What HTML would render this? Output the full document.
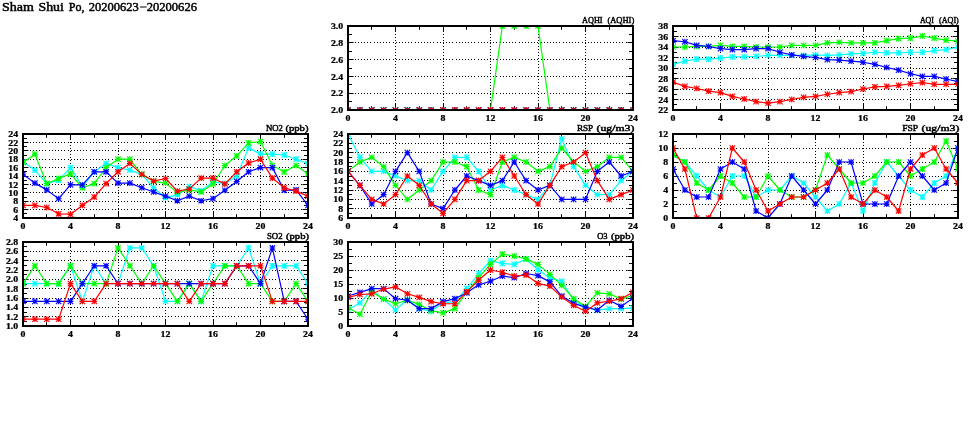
<!DOCTYPE html>
<html><head><meta charset="utf-8"><style>
html,body{margin:0;padding:0;background:#fff;width:975px;height:447px;overflow:hidden}
svg{display:block;will-change:transform}
.lab{font-family:"Liberation Serif", serif;font-size:8.2px;font-weight:bold;fill:#000;stroke:#000;stroke-width:0.25px}
.ttl{font-family:"Liberation Serif",serif;font-size:8.8px;font-weight:normal;fill:#000;stroke:#000;stroke-width:0.45px}
.main{font-family:"Liberation Serif",serif;font-size:11.8px;font-weight:normal;fill:#000;stroke:#000;stroke-width:0.45px}
</style></head><body>
<svg width="975" height="447" viewBox="0 0 975 447">
<rect width="975" height="447" fill="#fff"/>
<text x="2" y="11" textLength="31.9" lengthAdjust="spacingAndGlyphs" class="main">Sham</text><text x="38.5" y="11" textLength="25.4" lengthAdjust="spacingAndGlyphs" class="main">Shui</text><text x="68.8" y="11" textLength="15.7" lengthAdjust="spacingAndGlyphs" class="main">Po,</text><text x="88.8" y="11" textLength="50" lengthAdjust="spacingAndGlyphs" class="main">20200623</text><text x="146.7" y="11" textLength="50.3" lengthAdjust="spacingAndGlyphs" class="main">20200626</text><rect x="140.0" y="6.5" width="6.6" height="1.0" fill="#000"/>
<clipPath id="c0"><rect x="348" y="26" width="285" height="84"/></clipPath>
<path d="M354.7 93.5H633 M354.7 76.5H633 M354.7 59.5H633 M354.7 42.5H633" stroke="#000" stroke-width="1.0" stroke-dasharray="1 2.15" fill="none" shape-rendering="crispEdges"/>
<path d="M395.5 34V110 M443.5 34V110 M490.5 34V110 M538.5 34V110 M585.5 34V110" stroke="#000" stroke-width="1.0" stroke-dasharray="1 2" fill="none" shape-rendering="crispEdges"/>
<path d="M348 101.5h4M633 101.5h-4M348 93.5h5.5M633 93.5h-5.5M348 84.5h4M633 84.5h-4M348 76.5h5.5M633 76.5h-5.5M348 68.5h4M633 68.5h-4M348 59.5h5.5M633 59.5h-5.5M348 51.5h4M633 51.5h-4M348 42.5h5.5M633 42.5h-5.5M348 34.5h4M633 34.5h-4M371.5 26v3.8M371.5 110v-3.8M395.5 26v6M395.5 110v-6M419.5 26v3.8M419.5 110v-3.8M443.5 26v6M443.5 110v-6M466.5 26v3.8M466.5 110v-3.8M490.5 26v6M490.5 110v-6M514.5 26v3.8M514.5 110v-3.8M538.5 26v6M538.5 110v-6M561.5 26v3.8M561.5 110v-3.8M585.5 26v6M585.5 110v-6M609.5 26v3.8M609.5 110v-3.8" stroke="#000" stroke-width="1" fill="none"/>
<g clip-path="url(#c0)">
<polyline points="348,110 359.88,110 371.75,110 383.62,110 395.5,110 407.38,110 419.25,110 431.12,110 443,110 454.88,110 466.75,110 478.62,110 490.5,110 502.38,110 514.25,110 526.12,110 538,110 549.88,110 561.75,110 573.62,110 585.5,110 597.38,110 609.25,110 621.12,110 633,110" stroke="#00ffff" stroke-width="1.2" fill="none" stroke-linejoin="round"/>
<path d="M345.3 107.3l5.4 5.4m0 -5.4l-5.4 5.4M348 107.1v5.8M345.1 110h5.8M357.18 107.3l5.4 5.4m0 -5.4l-5.4 5.4M359.88 107.1v5.8M356.98 110h5.8M369.05 107.3l5.4 5.4m0 -5.4l-5.4 5.4M371.75 107.1v5.8M368.85 110h5.8M380.93 107.3l5.4 5.4m0 -5.4l-5.4 5.4M383.62 107.1v5.8M380.73 110h5.8M392.8 107.3l5.4 5.4m0 -5.4l-5.4 5.4M395.5 107.1v5.8M392.6 110h5.8M404.68 107.3l5.4 5.4m0 -5.4l-5.4 5.4M407.38 107.1v5.8M404.48 110h5.8M416.55 107.3l5.4 5.4m0 -5.4l-5.4 5.4M419.25 107.1v5.8M416.35 110h5.8M428.43 107.3l5.4 5.4m0 -5.4l-5.4 5.4M431.12 107.1v5.8M428.23 110h5.8M440.3 107.3l5.4 5.4m0 -5.4l-5.4 5.4M443 107.1v5.8M440.1 110h5.8M452.18 107.3l5.4 5.4m0 -5.4l-5.4 5.4M454.88 107.1v5.8M451.98 110h5.8M464.05 107.3l5.4 5.4m0 -5.4l-5.4 5.4M466.75 107.1v5.8M463.85 110h5.8M475.93 107.3l5.4 5.4m0 -5.4l-5.4 5.4M478.62 107.1v5.8M475.73 110h5.8M487.8 107.3l5.4 5.4m0 -5.4l-5.4 5.4M490.5 107.1v5.8M487.6 110h5.8M499.68 107.3l5.4 5.4m0 -5.4l-5.4 5.4M502.38 107.1v5.8M499.48 110h5.8M511.55 107.3l5.4 5.4m0 -5.4l-5.4 5.4M514.25 107.1v5.8M511.35 110h5.8M523.42 107.3l5.4 5.4m0 -5.4l-5.4 5.4M526.12 107.1v5.8M523.22 110h5.8M535.3 107.3l5.4 5.4m0 -5.4l-5.4 5.4M538 107.1v5.8M535.1 110h5.8M547.17 107.3l5.4 5.4m0 -5.4l-5.4 5.4M549.88 107.1v5.8M546.97 110h5.8M559.05 107.3l5.4 5.4m0 -5.4l-5.4 5.4M561.75 107.1v5.8M558.85 110h5.8M570.92 107.3l5.4 5.4m0 -5.4l-5.4 5.4M573.62 107.1v5.8M570.72 110h5.8M582.8 107.3l5.4 5.4m0 -5.4l-5.4 5.4M585.5 107.1v5.8M582.6 110h5.8M594.67 107.3l5.4 5.4m0 -5.4l-5.4 5.4M597.38 107.1v5.8M594.47 110h5.8M606.55 107.3l5.4 5.4m0 -5.4l-5.4 5.4M609.25 107.1v5.8M606.35 110h5.8M618.42 107.3l5.4 5.4m0 -5.4l-5.4 5.4M621.12 107.1v5.8M618.22 110h5.8M630.3 107.3l5.4 5.4m0 -5.4l-5.4 5.4M633 107.1v5.8M630.1 110h5.8" stroke="#00ffff" stroke-width="1.1" fill="none"/>
<polyline points="348,110 359.88,110 371.75,110 383.62,110 395.5,110 407.38,110 419.25,110 431.12,110 443,110 454.88,110 466.75,110 478.62,110 490.5,110 502.38,26 514.25,26 526.12,26 538,26 549.88,110 561.75,110 573.62,110 585.5,110 597.38,110 609.25,110 621.12,110 633,110" stroke="#00ff00" stroke-width="1.2" fill="none" stroke-linejoin="round"/>
<path d="M345.3 107.3l5.4 5.4m0 -5.4l-5.4 5.4M348 107.1v5.8M345.1 110h5.8M357.18 107.3l5.4 5.4m0 -5.4l-5.4 5.4M359.88 107.1v5.8M356.98 110h5.8M369.05 107.3l5.4 5.4m0 -5.4l-5.4 5.4M371.75 107.1v5.8M368.85 110h5.8M380.93 107.3l5.4 5.4m0 -5.4l-5.4 5.4M383.62 107.1v5.8M380.73 110h5.8M392.8 107.3l5.4 5.4m0 -5.4l-5.4 5.4M395.5 107.1v5.8M392.6 110h5.8M404.68 107.3l5.4 5.4m0 -5.4l-5.4 5.4M407.38 107.1v5.8M404.48 110h5.8M416.55 107.3l5.4 5.4m0 -5.4l-5.4 5.4M419.25 107.1v5.8M416.35 110h5.8M428.43 107.3l5.4 5.4m0 -5.4l-5.4 5.4M431.12 107.1v5.8M428.23 110h5.8M440.3 107.3l5.4 5.4m0 -5.4l-5.4 5.4M443 107.1v5.8M440.1 110h5.8M452.18 107.3l5.4 5.4m0 -5.4l-5.4 5.4M454.88 107.1v5.8M451.98 110h5.8M464.05 107.3l5.4 5.4m0 -5.4l-5.4 5.4M466.75 107.1v5.8M463.85 110h5.8M475.93 107.3l5.4 5.4m0 -5.4l-5.4 5.4M478.62 107.1v5.8M475.73 110h5.8M487.8 107.3l5.4 5.4m0 -5.4l-5.4 5.4M490.5 107.1v5.8M487.6 110h5.8M499.68 23.3l5.4 5.4m0 -5.4l-5.4 5.4M502.38 23.1v5.8M499.48 26h5.8M511.55 23.3l5.4 5.4m0 -5.4l-5.4 5.4M514.25 23.1v5.8M511.35 26h5.8M523.42 23.3l5.4 5.4m0 -5.4l-5.4 5.4M526.12 23.1v5.8M523.22 26h5.8M535.3 23.3l5.4 5.4m0 -5.4l-5.4 5.4M538 23.1v5.8M535.1 26h5.8M547.17 107.3l5.4 5.4m0 -5.4l-5.4 5.4M549.88 107.1v5.8M546.97 110h5.8M559.05 107.3l5.4 5.4m0 -5.4l-5.4 5.4M561.75 107.1v5.8M558.85 110h5.8M570.92 107.3l5.4 5.4m0 -5.4l-5.4 5.4M573.62 107.1v5.8M570.72 110h5.8M582.8 107.3l5.4 5.4m0 -5.4l-5.4 5.4M585.5 107.1v5.8M582.6 110h5.8M594.67 107.3l5.4 5.4m0 -5.4l-5.4 5.4M597.38 107.1v5.8M594.47 110h5.8M606.55 107.3l5.4 5.4m0 -5.4l-5.4 5.4M609.25 107.1v5.8M606.35 110h5.8M618.42 107.3l5.4 5.4m0 -5.4l-5.4 5.4M621.12 107.1v5.8M618.22 110h5.8M630.3 107.3l5.4 5.4m0 -5.4l-5.4 5.4M633 107.1v5.8M630.1 110h5.8" stroke="#00ff00" stroke-width="1.1" fill="none"/>
<polyline points="348,110 359.88,110 371.75,110 383.62,110 395.5,110 407.38,110 419.25,110 431.12,110 443,110 454.88,110 466.75,110 478.62,110 490.5,110 502.38,110 514.25,110 526.12,110 538,110 549.88,110 561.75,110 573.62,110 585.5,110 597.38,110 609.25,110 621.12,110 633,110" stroke="#0000ff" stroke-width="1.2" fill="none" stroke-linejoin="round"/>
<path d="M345.3 107.3l5.4 5.4m0 -5.4l-5.4 5.4M348 107.1v5.8M345.1 110h5.8M357.18 107.3l5.4 5.4m0 -5.4l-5.4 5.4M359.88 107.1v5.8M356.98 110h5.8M369.05 107.3l5.4 5.4m0 -5.4l-5.4 5.4M371.75 107.1v5.8M368.85 110h5.8M380.93 107.3l5.4 5.4m0 -5.4l-5.4 5.4M383.62 107.1v5.8M380.73 110h5.8M392.8 107.3l5.4 5.4m0 -5.4l-5.4 5.4M395.5 107.1v5.8M392.6 110h5.8M404.68 107.3l5.4 5.4m0 -5.4l-5.4 5.4M407.38 107.1v5.8M404.48 110h5.8M416.55 107.3l5.4 5.4m0 -5.4l-5.4 5.4M419.25 107.1v5.8M416.35 110h5.8M428.43 107.3l5.4 5.4m0 -5.4l-5.4 5.4M431.12 107.1v5.8M428.23 110h5.8M440.3 107.3l5.4 5.4m0 -5.4l-5.4 5.4M443 107.1v5.8M440.1 110h5.8M452.18 107.3l5.4 5.4m0 -5.4l-5.4 5.4M454.88 107.1v5.8M451.98 110h5.8M464.05 107.3l5.4 5.4m0 -5.4l-5.4 5.4M466.75 107.1v5.8M463.85 110h5.8M475.93 107.3l5.4 5.4m0 -5.4l-5.4 5.4M478.62 107.1v5.8M475.73 110h5.8M487.8 107.3l5.4 5.4m0 -5.4l-5.4 5.4M490.5 107.1v5.8M487.6 110h5.8M499.68 107.3l5.4 5.4m0 -5.4l-5.4 5.4M502.38 107.1v5.8M499.48 110h5.8M511.55 107.3l5.4 5.4m0 -5.4l-5.4 5.4M514.25 107.1v5.8M511.35 110h5.8M523.42 107.3l5.4 5.4m0 -5.4l-5.4 5.4M526.12 107.1v5.8M523.22 110h5.8M535.3 107.3l5.4 5.4m0 -5.4l-5.4 5.4M538 107.1v5.8M535.1 110h5.8M547.17 107.3l5.4 5.4m0 -5.4l-5.4 5.4M549.88 107.1v5.8M546.97 110h5.8M559.05 107.3l5.4 5.4m0 -5.4l-5.4 5.4M561.75 107.1v5.8M558.85 110h5.8M570.92 107.3l5.4 5.4m0 -5.4l-5.4 5.4M573.62 107.1v5.8M570.72 110h5.8M582.8 107.3l5.4 5.4m0 -5.4l-5.4 5.4M585.5 107.1v5.8M582.6 110h5.8M594.67 107.3l5.4 5.4m0 -5.4l-5.4 5.4M597.38 107.1v5.8M594.47 110h5.8M606.55 107.3l5.4 5.4m0 -5.4l-5.4 5.4M609.25 107.1v5.8M606.35 110h5.8M618.42 107.3l5.4 5.4m0 -5.4l-5.4 5.4M621.12 107.1v5.8M618.22 110h5.8M630.3 107.3l5.4 5.4m0 -5.4l-5.4 5.4M633 107.1v5.8M630.1 110h5.8" stroke="#0000ff" stroke-width="1.1" fill="none"/>
<polyline points="348,110 359.88,110 371.75,110 383.62,110 395.5,110 407.38,110 419.25,110 431.12,110 443,110 454.88,110 466.75,110 478.62,110 490.5,110 502.38,110 514.25,110 526.12,110 538,110 549.88,110 561.75,110 573.62,110 585.5,110 597.38,110 609.25,110 621.12,110 633,110" stroke="#ff0000" stroke-width="1.2" fill="none" stroke-linejoin="round"/>
<path d="M345.3 107.3l5.4 5.4m0 -5.4l-5.4 5.4M348 107.1v5.8M345.1 110h5.8M357.18 107.3l5.4 5.4m0 -5.4l-5.4 5.4M359.88 107.1v5.8M356.98 110h5.8M369.05 107.3l5.4 5.4m0 -5.4l-5.4 5.4M371.75 107.1v5.8M368.85 110h5.8M380.93 107.3l5.4 5.4m0 -5.4l-5.4 5.4M383.62 107.1v5.8M380.73 110h5.8M392.8 107.3l5.4 5.4m0 -5.4l-5.4 5.4M395.5 107.1v5.8M392.6 110h5.8M404.68 107.3l5.4 5.4m0 -5.4l-5.4 5.4M407.38 107.1v5.8M404.48 110h5.8M416.55 107.3l5.4 5.4m0 -5.4l-5.4 5.4M419.25 107.1v5.8M416.35 110h5.8M428.43 107.3l5.4 5.4m0 -5.4l-5.4 5.4M431.12 107.1v5.8M428.23 110h5.8M440.3 107.3l5.4 5.4m0 -5.4l-5.4 5.4M443 107.1v5.8M440.1 110h5.8M452.18 107.3l5.4 5.4m0 -5.4l-5.4 5.4M454.88 107.1v5.8M451.98 110h5.8M464.05 107.3l5.4 5.4m0 -5.4l-5.4 5.4M466.75 107.1v5.8M463.85 110h5.8M475.93 107.3l5.4 5.4m0 -5.4l-5.4 5.4M478.62 107.1v5.8M475.73 110h5.8M487.8 107.3l5.4 5.4m0 -5.4l-5.4 5.4M490.5 107.1v5.8M487.6 110h5.8M499.68 107.3l5.4 5.4m0 -5.4l-5.4 5.4M502.38 107.1v5.8M499.48 110h5.8M511.55 107.3l5.4 5.4m0 -5.4l-5.4 5.4M514.25 107.1v5.8M511.35 110h5.8M523.42 107.3l5.4 5.4m0 -5.4l-5.4 5.4M526.12 107.1v5.8M523.22 110h5.8M535.3 107.3l5.4 5.4m0 -5.4l-5.4 5.4M538 107.1v5.8M535.1 110h5.8M547.17 107.3l5.4 5.4m0 -5.4l-5.4 5.4M549.88 107.1v5.8M546.97 110h5.8M559.05 107.3l5.4 5.4m0 -5.4l-5.4 5.4M561.75 107.1v5.8M558.85 110h5.8M570.92 107.3l5.4 5.4m0 -5.4l-5.4 5.4M573.62 107.1v5.8M570.72 110h5.8M582.8 107.3l5.4 5.4m0 -5.4l-5.4 5.4M585.5 107.1v5.8M582.6 110h5.8M594.67 107.3l5.4 5.4m0 -5.4l-5.4 5.4M597.38 107.1v5.8M594.47 110h5.8M606.55 107.3l5.4 5.4m0 -5.4l-5.4 5.4M609.25 107.1v5.8M606.35 110h5.8M618.42 107.3l5.4 5.4m0 -5.4l-5.4 5.4M621.12 107.1v5.8M618.22 110h5.8M630.3 107.3l5.4 5.4m0 -5.4l-5.4 5.4M633 107.1v5.8M630.1 110h5.8" stroke="#ff0000" stroke-width="1.1" fill="none"/>
</g>
<rect x="348" y="26" width="285" height="84" fill="none" stroke="#000" stroke-width="2"/>
<text transform="translate(343.2,113.1) scale(1.2,1)" text-anchor="end" class="lab">2.0</text>
<text transform="translate(343.2,96.3) scale(1.2,1)" text-anchor="end" class="lab">2.2</text>
<text transform="translate(343.2,79.5) scale(1.2,1)" text-anchor="end" class="lab">2.4</text>
<text transform="translate(343.2,62.7) scale(1.2,1)" text-anchor="end" class="lab">2.6</text>
<text transform="translate(343.2,45.9) scale(1.2,1)" text-anchor="end" class="lab">2.8</text>
<text transform="translate(343.2,29.1) scale(1.2,1)" text-anchor="end" class="lab">3.0</text>
<text transform="translate(348,121) scale(1.2,1)" text-anchor="middle" class="lab">0</text>
<text transform="translate(395.5,121) scale(1.2,1)" text-anchor="middle" class="lab">4</text>
<text transform="translate(443,121) scale(1.2,1)" text-anchor="middle" class="lab">8</text>
<text transform="translate(490.5,121) scale(1.2,1)" text-anchor="middle" class="lab">12</text>
<text transform="translate(538,121) scale(1.2,1)" text-anchor="middle" class="lab">16</text>
<text transform="translate(585.5,121) scale(1.2,1)" text-anchor="middle" class="lab">20</text>
<text transform="translate(633,121) scale(1.2,1)" text-anchor="middle" class="lab">24</text>
<text x="582" y="22.7" textLength="20.6" lengthAdjust="spacingAndGlyphs" class="ttl">AQHI</text>
<text x="607.4" y="22.7" textLength="26.9" lengthAdjust="spacingAndGlyphs" class="ttl">(AQHI)</text>
<clipPath id="c1"><rect x="673" y="26" width="285" height="84"/></clipPath>
<path d="M679.7 99.5H958 M679.7 89.5H958 M679.7 78.5H958 M679.7 68.5H958 M679.7 57.5H958 M679.7 47.5H958 M679.7 36.5H958" stroke="#000" stroke-width="1.0" stroke-dasharray="1 2.15" fill="none" shape-rendering="crispEdges"/>
<path d="M720.5 34V110 M768.5 34V110 M815.5 34V110 M863.5 34V110 M910.5 34V110" stroke="#000" stroke-width="1.0" stroke-dasharray="1 2" fill="none" shape-rendering="crispEdges"/>
<path d="M673 104.5h4M958 104.5h-4M673 99.5h5.5M958 99.5h-5.5M673 94.5h4M958 94.5h-4M673 89.5h5.5M958 89.5h-5.5M673 83.5h4M958 83.5h-4M673 78.5h5.5M958 78.5h-5.5M673 73.5h4M958 73.5h-4M673 68.5h5.5M958 68.5h-5.5M673 62.5h4M958 62.5h-4M673 57.5h5.5M958 57.5h-5.5M673 52.5h4M958 52.5h-4M673 47.5h5.5M958 47.5h-5.5M673 41.5h4M958 41.5h-4M673 36.5h5.5M958 36.5h-5.5M673 31.5h4M958 31.5h-4M696.5 26v3.8M696.5 110v-3.8M720.5 26v6M720.5 110v-6M744.5 26v3.8M744.5 110v-3.8M768.5 26v6M768.5 110v-6M791.5 26v3.8M791.5 110v-3.8M815.5 26v6M815.5 110v-6M839.5 26v3.8M839.5 110v-3.8M863.5 26v6M863.5 110v-6M886.5 26v3.8M886.5 110v-3.8M910.5 26v6M910.5 110v-6M934.5 26v3.8M934.5 110v-3.8" stroke="#000" stroke-width="1" fill="none"/>
<g clip-path="url(#c1)">
<polyline points="673,64.33 684.88,61.17 696.75,59.08 708.62,59.08 720.5,58.03 732.38,56.97 744.25,56.97 756.12,56.45 768,55.4 779.88,55.4 791.75,55.4 803.62,55.4 815.5,54.88 827.38,55.4 839.25,54.88 851.12,53.82 863,53.3 874.88,52.25 886.75,52.78 898.62,52.78 910.5,52.25 922.38,52.25 934.25,50.68 946.12,49.62 958,47" stroke="#00ffff" stroke-width="1.2" fill="none" stroke-linejoin="round"/>
<path d="M670.3 61.62l5.4 5.4m0 -5.4l-5.4 5.4M673 61.42v5.8M670.1 64.33h5.8M682.17 58.47l5.4 5.4m0 -5.4l-5.4 5.4M684.88 58.27v5.8M681.97 61.17h5.8M694.05 56.38l5.4 5.4m0 -5.4l-5.4 5.4M696.75 56.17v5.8M693.85 59.08h5.8M705.92 56.38l5.4 5.4m0 -5.4l-5.4 5.4M708.62 56.17v5.8M705.72 59.08h5.8M717.8 55.33l5.4 5.4m0 -5.4l-5.4 5.4M720.5 55.12v5.8M717.6 58.03h5.8M729.67 54.27l5.4 5.4m0 -5.4l-5.4 5.4M732.38 54.07v5.8M729.47 56.97h5.8M741.55 54.27l5.4 5.4m0 -5.4l-5.4 5.4M744.25 54.07v5.8M741.35 56.97h5.8M753.42 53.75l5.4 5.4m0 -5.4l-5.4 5.4M756.12 53.55v5.8M753.22 56.45h5.8M765.3 52.7l5.4 5.4m0 -5.4l-5.4 5.4M768 52.5v5.8M765.1 55.4h5.8M777.17 52.7l5.4 5.4m0 -5.4l-5.4 5.4M779.88 52.5v5.8M776.97 55.4h5.8M789.05 52.7l5.4 5.4m0 -5.4l-5.4 5.4M791.75 52.5v5.8M788.85 55.4h5.8M800.92 52.7l5.4 5.4m0 -5.4l-5.4 5.4M803.62 52.5v5.8M800.72 55.4h5.8M812.8 52.17l5.4 5.4m0 -5.4l-5.4 5.4M815.5 51.97v5.8M812.6 54.88h5.8M824.67 52.7l5.4 5.4m0 -5.4l-5.4 5.4M827.38 52.5v5.8M824.47 55.4h5.8M836.55 52.17l5.4 5.4m0 -5.4l-5.4 5.4M839.25 51.97v5.8M836.35 54.88h5.8M848.42 51.12l5.4 5.4m0 -5.4l-5.4 5.4M851.12 50.92v5.8M848.22 53.82h5.8M860.3 50.6l5.4 5.4m0 -5.4l-5.4 5.4M863 50.4v5.8M860.1 53.3h5.8M872.17 49.55l5.4 5.4m0 -5.4l-5.4 5.4M874.88 49.35v5.8M871.97 52.25h5.8M884.05 50.08l5.4 5.4m0 -5.4l-5.4 5.4M886.75 49.88v5.8M883.85 52.78h5.8M895.92 50.08l5.4 5.4m0 -5.4l-5.4 5.4M898.62 49.88v5.8M895.72 52.78h5.8M907.8 49.55l5.4 5.4m0 -5.4l-5.4 5.4M910.5 49.35v5.8M907.6 52.25h5.8M919.67 49.55l5.4 5.4m0 -5.4l-5.4 5.4M922.38 49.35v5.8M919.47 52.25h5.8M931.55 47.98l5.4 5.4m0 -5.4l-5.4 5.4M934.25 47.78v5.8M931.35 50.68h5.8M943.42 46.92l5.4 5.4m0 -5.4l-5.4 5.4M946.12 46.72v5.8M943.22 49.62h5.8M955.3 44.3l5.4 5.4m0 -5.4l-5.4 5.4M958 44.1v5.8M955.1 47h5.8" stroke="#00ffff" stroke-width="1.1" fill="none"/>
<polyline points="673,47 684.88,47 696.75,46.47 708.62,46.47 720.5,45.43 732.38,46.47 744.25,46.47 756.12,47 768,47 779.88,47 791.75,45.43 803.62,45.43 815.5,45.43 827.38,42.8 839.25,42.28 851.12,42.8 863,42.8 874.88,42.8 886.75,40.7 898.62,38.6 910.5,38.07 922.38,35.97 934.25,38.07 946.12,40.18 958,41.22" stroke="#00ff00" stroke-width="1.2" fill="none" stroke-linejoin="round"/>
<path d="M670.3 44.3l5.4 5.4m0 -5.4l-5.4 5.4M673 44.1v5.8M670.1 47h5.8M682.17 44.3l5.4 5.4m0 -5.4l-5.4 5.4M684.88 44.1v5.8M681.97 47h5.8M694.05 43.77l5.4 5.4m0 -5.4l-5.4 5.4M696.75 43.57v5.8M693.85 46.47h5.8M705.92 43.77l5.4 5.4m0 -5.4l-5.4 5.4M708.62 43.57v5.8M705.72 46.47h5.8M717.8 42.73l5.4 5.4m0 -5.4l-5.4 5.4M720.5 42.53v5.8M717.6 45.43h5.8M729.67 43.77l5.4 5.4m0 -5.4l-5.4 5.4M732.38 43.57v5.8M729.47 46.47h5.8M741.55 43.77l5.4 5.4m0 -5.4l-5.4 5.4M744.25 43.57v5.8M741.35 46.47h5.8M753.42 44.3l5.4 5.4m0 -5.4l-5.4 5.4M756.12 44.1v5.8M753.22 47h5.8M765.3 44.3l5.4 5.4m0 -5.4l-5.4 5.4M768 44.1v5.8M765.1 47h5.8M777.17 44.3l5.4 5.4m0 -5.4l-5.4 5.4M779.88 44.1v5.8M776.97 47h5.8M789.05 42.73l5.4 5.4m0 -5.4l-5.4 5.4M791.75 42.53v5.8M788.85 45.43h5.8M800.92 42.73l5.4 5.4m0 -5.4l-5.4 5.4M803.62 42.53v5.8M800.72 45.43h5.8M812.8 42.73l5.4 5.4m0 -5.4l-5.4 5.4M815.5 42.53v5.8M812.6 45.43h5.8M824.67 40.1l5.4 5.4m0 -5.4l-5.4 5.4M827.38 39.9v5.8M824.47 42.8h5.8M836.55 39.58l5.4 5.4m0 -5.4l-5.4 5.4M839.25 39.38v5.8M836.35 42.28h5.8M848.42 40.1l5.4 5.4m0 -5.4l-5.4 5.4M851.12 39.9v5.8M848.22 42.8h5.8M860.3 40.1l5.4 5.4m0 -5.4l-5.4 5.4M863 39.9v5.8M860.1 42.8h5.8M872.17 40.1l5.4 5.4m0 -5.4l-5.4 5.4M874.88 39.9v5.8M871.97 42.8h5.8M884.05 38l5.4 5.4m0 -5.4l-5.4 5.4M886.75 37.8v5.8M883.85 40.7h5.8M895.92 35.9l5.4 5.4m0 -5.4l-5.4 5.4M898.62 35.7v5.8M895.72 38.6h5.8M907.8 35.37l5.4 5.4m0 -5.4l-5.4 5.4M910.5 35.17v5.8M907.6 38.07h5.8M919.67 33.27l5.4 5.4m0 -5.4l-5.4 5.4M922.38 33.07v5.8M919.47 35.97h5.8M931.55 35.37l5.4 5.4m0 -5.4l-5.4 5.4M934.25 35.17v5.8M931.35 38.07h5.8M943.42 37.48l5.4 5.4m0 -5.4l-5.4 5.4M946.12 37.28v5.8M943.22 40.18h5.8M955.3 38.52l5.4 5.4m0 -5.4l-5.4 5.4M958 38.32v5.8M955.1 41.22h5.8" stroke="#00ff00" stroke-width="1.1" fill="none"/>
<polyline points="673,40.7 684.88,41.75 696.75,45.43 708.62,46.47 720.5,48.57 732.38,49.62 744.25,49.62 756.12,48.57 768,48.57 779.88,52.25 791.75,54.88 803.62,56.45 815.5,57.5 827.38,59.6 839.25,60.12 851.12,61.17 863,62.22 874.88,64.33 886.75,67.47 898.62,70.1 910.5,73.78 922.38,76.4 934.25,76.4 946.12,79.03 958,81.65" stroke="#0000ff" stroke-width="1.2" fill="none" stroke-linejoin="round"/>
<path d="M670.3 38l5.4 5.4m0 -5.4l-5.4 5.4M673 37.8v5.8M670.1 40.7h5.8M682.17 39.05l5.4 5.4m0 -5.4l-5.4 5.4M684.88 38.85v5.8M681.97 41.75h5.8M694.05 42.73l5.4 5.4m0 -5.4l-5.4 5.4M696.75 42.53v5.8M693.85 45.43h5.8M705.92 43.77l5.4 5.4m0 -5.4l-5.4 5.4M708.62 43.57v5.8M705.72 46.47h5.8M717.8 45.87l5.4 5.4m0 -5.4l-5.4 5.4M720.5 45.67v5.8M717.6 48.57h5.8M729.67 46.92l5.4 5.4m0 -5.4l-5.4 5.4M732.38 46.72v5.8M729.47 49.62h5.8M741.55 46.92l5.4 5.4m0 -5.4l-5.4 5.4M744.25 46.72v5.8M741.35 49.62h5.8M753.42 45.87l5.4 5.4m0 -5.4l-5.4 5.4M756.12 45.67v5.8M753.22 48.57h5.8M765.3 45.87l5.4 5.4m0 -5.4l-5.4 5.4M768 45.67v5.8M765.1 48.57h5.8M777.17 49.55l5.4 5.4m0 -5.4l-5.4 5.4M779.88 49.35v5.8M776.97 52.25h5.8M789.05 52.17l5.4 5.4m0 -5.4l-5.4 5.4M791.75 51.97v5.8M788.85 54.88h5.8M800.92 53.75l5.4 5.4m0 -5.4l-5.4 5.4M803.62 53.55v5.8M800.72 56.45h5.8M812.8 54.8l5.4 5.4m0 -5.4l-5.4 5.4M815.5 54.6v5.8M812.6 57.5h5.8M824.67 56.9l5.4 5.4m0 -5.4l-5.4 5.4M827.38 56.7v5.8M824.47 59.6h5.8M836.55 57.42l5.4 5.4m0 -5.4l-5.4 5.4M839.25 57.22v5.8M836.35 60.12h5.8M848.42 58.47l5.4 5.4m0 -5.4l-5.4 5.4M851.12 58.27v5.8M848.22 61.17h5.8M860.3 59.52l5.4 5.4m0 -5.4l-5.4 5.4M863 59.32v5.8M860.1 62.22h5.8M872.17 61.62l5.4 5.4m0 -5.4l-5.4 5.4M874.88 61.42v5.8M871.97 64.33h5.8M884.05 64.77l5.4 5.4m0 -5.4l-5.4 5.4M886.75 64.57v5.8M883.85 67.47h5.8M895.92 67.4l5.4 5.4m0 -5.4l-5.4 5.4M898.62 67.2v5.8M895.72 70.1h5.8M907.8 71.08l5.4 5.4m0 -5.4l-5.4 5.4M910.5 70.88v5.8M907.6 73.78h5.8M919.67 73.7l5.4 5.4m0 -5.4l-5.4 5.4M922.38 73.5v5.8M919.47 76.4h5.8M931.55 73.7l5.4 5.4m0 -5.4l-5.4 5.4M934.25 73.5v5.8M931.35 76.4h5.8M943.42 76.33l5.4 5.4m0 -5.4l-5.4 5.4M946.12 76.12v5.8M943.22 79.03h5.8M955.3 78.95l5.4 5.4m0 -5.4l-5.4 5.4M958 78.75v5.8M955.1 81.65h5.8" stroke="#0000ff" stroke-width="1.1" fill="none"/>
<polyline points="673,82.17 684.88,86.38 696.75,88.47 708.62,91.1 720.5,92.67 732.38,96.35 744.25,98.97 756.12,101.6 768,103.17 779.88,101.6 791.75,99.5 803.62,97.4 815.5,96.35 827.38,94.25 839.25,92.67 851.12,91.62 863,89 874.88,86.9 886.75,86.38 898.62,85.33 910.5,83.75 922.38,82.7 934.25,84.28 946.12,84.28 958,84.28" stroke="#ff0000" stroke-width="1.2" fill="none" stroke-linejoin="round"/>
<path d="M670.3 79.47l5.4 5.4m0 -5.4l-5.4 5.4M673 79.27v5.8M670.1 82.17h5.8M682.17 83.67l5.4 5.4m0 -5.4l-5.4 5.4M684.88 83.47v5.8M681.97 86.38h5.8M694.05 85.77l5.4 5.4m0 -5.4l-5.4 5.4M696.75 85.57v5.8M693.85 88.47h5.8M705.92 88.4l5.4 5.4m0 -5.4l-5.4 5.4M708.62 88.2v5.8M705.72 91.1h5.8M717.8 89.97l5.4 5.4m0 -5.4l-5.4 5.4M720.5 89.77v5.8M717.6 92.67h5.8M729.67 93.65l5.4 5.4m0 -5.4l-5.4 5.4M732.38 93.45v5.8M729.47 96.35h5.8M741.55 96.27l5.4 5.4m0 -5.4l-5.4 5.4M744.25 96.07v5.8M741.35 98.97h5.8M753.42 98.9l5.4 5.4m0 -5.4l-5.4 5.4M756.12 98.7v5.8M753.22 101.6h5.8M765.3 100.47l5.4 5.4m0 -5.4l-5.4 5.4M768 100.27v5.8M765.1 103.17h5.8M777.17 98.9l5.4 5.4m0 -5.4l-5.4 5.4M779.88 98.7v5.8M776.97 101.6h5.8M789.05 96.8l5.4 5.4m0 -5.4l-5.4 5.4M791.75 96.6v5.8M788.85 99.5h5.8M800.92 94.7l5.4 5.4m0 -5.4l-5.4 5.4M803.62 94.5v5.8M800.72 97.4h5.8M812.8 93.65l5.4 5.4m0 -5.4l-5.4 5.4M815.5 93.45v5.8M812.6 96.35h5.8M824.67 91.55l5.4 5.4m0 -5.4l-5.4 5.4M827.38 91.35v5.8M824.47 94.25h5.8M836.55 89.97l5.4 5.4m0 -5.4l-5.4 5.4M839.25 89.77v5.8M836.35 92.67h5.8M848.42 88.92l5.4 5.4m0 -5.4l-5.4 5.4M851.12 88.72v5.8M848.22 91.62h5.8M860.3 86.3l5.4 5.4m0 -5.4l-5.4 5.4M863 86.1v5.8M860.1 89h5.8M872.17 84.2l5.4 5.4m0 -5.4l-5.4 5.4M874.88 84v5.8M871.97 86.9h5.8M884.05 83.67l5.4 5.4m0 -5.4l-5.4 5.4M886.75 83.47v5.8M883.85 86.38h5.8M895.92 82.62l5.4 5.4m0 -5.4l-5.4 5.4M898.62 82.42v5.8M895.72 85.33h5.8M907.8 81.05l5.4 5.4m0 -5.4l-5.4 5.4M910.5 80.85v5.8M907.6 83.75h5.8M919.67 80l5.4 5.4m0 -5.4l-5.4 5.4M922.38 79.8v5.8M919.47 82.7h5.8M931.55 81.58l5.4 5.4m0 -5.4l-5.4 5.4M934.25 81.38v5.8M931.35 84.28h5.8M943.42 81.58l5.4 5.4m0 -5.4l-5.4 5.4M946.12 81.38v5.8M943.22 84.28h5.8M955.3 81.58l5.4 5.4m0 -5.4l-5.4 5.4M958 81.38v5.8M955.1 84.28h5.8" stroke="#ff0000" stroke-width="1.1" fill="none"/>
</g>
<rect x="673" y="26" width="285" height="84" fill="none" stroke="#000" stroke-width="2"/>
<text transform="translate(668.2,113.1) scale(1.2,1)" text-anchor="end" class="lab">22</text>
<text transform="translate(668.2,102.6) scale(1.2,1)" text-anchor="end" class="lab">24</text>
<text transform="translate(668.2,92.1) scale(1.2,1)" text-anchor="end" class="lab">26</text>
<text transform="translate(668.2,81.6) scale(1.2,1)" text-anchor="end" class="lab">28</text>
<text transform="translate(668.2,71.1) scale(1.2,1)" text-anchor="end" class="lab">30</text>
<text transform="translate(668.2,60.6) scale(1.2,1)" text-anchor="end" class="lab">32</text>
<text transform="translate(668.2,50.1) scale(1.2,1)" text-anchor="end" class="lab">34</text>
<text transform="translate(668.2,39.6) scale(1.2,1)" text-anchor="end" class="lab">36</text>
<text transform="translate(668.2,29.1) scale(1.2,1)" text-anchor="end" class="lab">38</text>
<text transform="translate(673,121) scale(1.2,1)" text-anchor="middle" class="lab">0</text>
<text transform="translate(720.5,121) scale(1.2,1)" text-anchor="middle" class="lab">4</text>
<text transform="translate(768,121) scale(1.2,1)" text-anchor="middle" class="lab">8</text>
<text transform="translate(815.5,121) scale(1.2,1)" text-anchor="middle" class="lab">12</text>
<text transform="translate(863,121) scale(1.2,1)" text-anchor="middle" class="lab">16</text>
<text transform="translate(910.5,121) scale(1.2,1)" text-anchor="middle" class="lab">20</text>
<text transform="translate(958,121) scale(1.2,1)" text-anchor="middle" class="lab">24</text>
<text x="919.9" y="22.7" textLength="14.1" lengthAdjust="spacingAndGlyphs" class="ttl">AQI</text>
<text x="939" y="22.7" textLength="19.8" lengthAdjust="spacingAndGlyphs" class="ttl">(AQI)</text>
<clipPath id="c2"><rect x="23" y="134" width="285" height="84"/></clipPath>
<path d="M29.7 209.5H308 M29.7 201.5H308 M29.7 192.5H308 M29.7 184.5H308 M29.7 176.5H308 M29.7 167.5H308 M29.7 159.5H308 M29.7 150.5H308 M29.7 142.5H308" stroke="#000" stroke-width="1.0" stroke-dasharray="1 2.15" fill="none" shape-rendering="crispEdges"/>
<path d="M70.5 142V218 M118.5 142V218 M165.5 142V218 M213.5 142V218 M260.5 142V218" stroke="#000" stroke-width="1.0" stroke-dasharray="1 2" fill="none" shape-rendering="crispEdges"/>
<path d="M23 213.5h4M308 213.5h-4M23 209.5h5.5M308 209.5h-5.5M23 205.5h4M308 205.5h-4M23 201.5h5.5M308 201.5h-5.5M23 197.5h4M308 197.5h-4M23 192.5h5.5M308 192.5h-5.5M23 188.5h4M308 188.5h-4M23 184.5h5.5M308 184.5h-5.5M23 180.5h4M308 180.5h-4M23 176.5h5.5M308 176.5h-5.5M23 171.5h4M308 171.5h-4M23 167.5h5.5M308 167.5h-5.5M23 163.5h4M308 163.5h-4M23 159.5h5.5M308 159.5h-5.5M23 155.5h4M308 155.5h-4M23 150.5h5.5M308 150.5h-5.5M23 146.5h4M308 146.5h-4M23 142.5h5.5M308 142.5h-5.5M23 138.5h4M308 138.5h-4M46.5 134v3.8M46.5 218v-3.8M70.5 134v6M70.5 218v-6M94.5 134v3.8M94.5 218v-3.8M118.5 134v6M118.5 218v-6M141.5 134v3.8M141.5 218v-3.8M165.5 134v6M165.5 218v-6M189.5 134v3.8M189.5 218v-3.8M213.5 134v6M213.5 218v-6M236.5 134v3.8M236.5 218v-3.8M260.5 134v6M260.5 218v-6M284.5 134v3.8M284.5 218v-3.8" stroke="#000" stroke-width="1" fill="none"/>
<g clip-path="url(#c2)">
<polyline points="23,161.72 34.88,170.12 46.75,183.56 58.62,180.2 70.5,167.6 82.38,186.5 94.25,171.8 106.12,163.4 118,167.6 129.88,170.12 141.75,174.32 153.62,187.76 165.5,197.84 177.38,194.9 189.25,186.5 201.12,190.7 213,181.88 224.88,183.56 236.75,176 248.62,147.86 260.5,154.16 272.38,154.16 284.25,155 296.12,159.2 308,163.4" stroke="#00ffff" stroke-width="1.2" fill="none" stroke-linejoin="round"/>
<path d="M20.3 159.02l5.4 5.4m0 -5.4l-5.4 5.4M23 158.82v5.8M20.1 161.72h5.8M32.17 167.42l5.4 5.4m0 -5.4l-5.4 5.4M34.88 167.22v5.8M31.97 170.12h5.8M44.05 180.86l5.4 5.4m0 -5.4l-5.4 5.4M46.75 180.66v5.8M43.85 183.56h5.8M55.92 177.5l5.4 5.4m0 -5.4l-5.4 5.4M58.62 177.3v5.8M55.72 180.2h5.8M67.8 164.9l5.4 5.4m0 -5.4l-5.4 5.4M70.5 164.7v5.8M67.6 167.6h5.8M79.67 183.8l5.4 5.4m0 -5.4l-5.4 5.4M82.38 183.6v5.8M79.47 186.5h5.8M91.55 169.1l5.4 5.4m0 -5.4l-5.4 5.4M94.25 168.9v5.8M91.35 171.8h5.8M103.42 160.7l5.4 5.4m0 -5.4l-5.4 5.4M106.12 160.5v5.8M103.22 163.4h5.8M115.3 164.9l5.4 5.4m0 -5.4l-5.4 5.4M118 164.7v5.8M115.1 167.6h5.8M127.17 167.42l5.4 5.4m0 -5.4l-5.4 5.4M129.88 167.22v5.8M126.97 170.12h5.8M139.05 171.62l5.4 5.4m0 -5.4l-5.4 5.4M141.75 171.42v5.8M138.85 174.32h5.8M150.93 185.06l5.4 5.4m0 -5.4l-5.4 5.4M153.62 184.86v5.8M150.73 187.76h5.8M162.8 195.14l5.4 5.4m0 -5.4l-5.4 5.4M165.5 194.94v5.8M162.6 197.84h5.8M174.68 192.2l5.4 5.4m0 -5.4l-5.4 5.4M177.38 192v5.8M174.48 194.9h5.8M186.55 183.8l5.4 5.4m0 -5.4l-5.4 5.4M189.25 183.6v5.8M186.35 186.5h5.8M198.43 188l5.4 5.4m0 -5.4l-5.4 5.4M201.12 187.8v5.8M198.23 190.7h5.8M210.3 179.18l5.4 5.4m0 -5.4l-5.4 5.4M213 178.98v5.8M210.1 181.88h5.8M222.18 180.86l5.4 5.4m0 -5.4l-5.4 5.4M224.88 180.66v5.8M221.98 183.56h5.8M234.05 173.3l5.4 5.4m0 -5.4l-5.4 5.4M236.75 173.1v5.8M233.85 176h5.8M245.93 145.16l5.4 5.4m0 -5.4l-5.4 5.4M248.62 144.96v5.8M245.73 147.86h5.8M257.8 151.46l5.4 5.4m0 -5.4l-5.4 5.4M260.5 151.26v5.8M257.6 154.16h5.8M269.68 151.46l5.4 5.4m0 -5.4l-5.4 5.4M272.38 151.26v5.8M269.48 154.16h5.8M281.55 152.3l5.4 5.4m0 -5.4l-5.4 5.4M284.25 152.1v5.8M281.35 155h5.8M293.43 156.5l5.4 5.4m0 -5.4l-5.4 5.4M296.12 156.3v5.8M293.23 159.2h5.8M305.3 160.7l5.4 5.4m0 -5.4l-5.4 5.4M308 160.5v5.8M305.1 163.4h5.8" stroke="#00ffff" stroke-width="1.1" fill="none"/>
<polyline points="23,162.56 34.88,154.16 46.75,183.56 58.62,178.52 70.5,173.9 82.38,187.76 94.25,183.56 106.12,167.6 118,159.2 129.88,159.2 141.75,174.32 153.62,181.46 165.5,183.14 177.38,192.38 189.25,189.86 201.12,191.96 213,183.98 224.88,165.5 236.75,155.84 248.62,142.82 260.5,141.56 272.38,165.5 284.25,171.8 296.12,165.5 308,173.9" stroke="#00ff00" stroke-width="1.2" fill="none" stroke-linejoin="round"/>
<path d="M20.3 159.86l5.4 5.4m0 -5.4l-5.4 5.4M23 159.66v5.8M20.1 162.56h5.8M32.17 151.46l5.4 5.4m0 -5.4l-5.4 5.4M34.88 151.26v5.8M31.97 154.16h5.8M44.05 180.86l5.4 5.4m0 -5.4l-5.4 5.4M46.75 180.66v5.8M43.85 183.56h5.8M55.92 175.82l5.4 5.4m0 -5.4l-5.4 5.4M58.62 175.62v5.8M55.72 178.52h5.8M67.8 171.2l5.4 5.4m0 -5.4l-5.4 5.4M70.5 171v5.8M67.6 173.9h5.8M79.67 185.06l5.4 5.4m0 -5.4l-5.4 5.4M82.38 184.86v5.8M79.47 187.76h5.8M91.55 180.86l5.4 5.4m0 -5.4l-5.4 5.4M94.25 180.66v5.8M91.35 183.56h5.8M103.42 164.9l5.4 5.4m0 -5.4l-5.4 5.4M106.12 164.7v5.8M103.22 167.6h5.8M115.3 156.5l5.4 5.4m0 -5.4l-5.4 5.4M118 156.3v5.8M115.1 159.2h5.8M127.17 156.5l5.4 5.4m0 -5.4l-5.4 5.4M129.88 156.3v5.8M126.97 159.2h5.8M139.05 171.62l5.4 5.4m0 -5.4l-5.4 5.4M141.75 171.42v5.8M138.85 174.32h5.8M150.93 178.76l5.4 5.4m0 -5.4l-5.4 5.4M153.62 178.56v5.8M150.73 181.46h5.8M162.8 180.44l5.4 5.4m0 -5.4l-5.4 5.4M165.5 180.24v5.8M162.6 183.14h5.8M174.68 189.68l5.4 5.4m0 -5.4l-5.4 5.4M177.38 189.48v5.8M174.48 192.38h5.8M186.55 187.16l5.4 5.4m0 -5.4l-5.4 5.4M189.25 186.96v5.8M186.35 189.86h5.8M198.43 189.26l5.4 5.4m0 -5.4l-5.4 5.4M201.12 189.06v5.8M198.23 191.96h5.8M210.3 181.28l5.4 5.4m0 -5.4l-5.4 5.4M213 181.08v5.8M210.1 183.98h5.8M222.18 162.8l5.4 5.4m0 -5.4l-5.4 5.4M224.88 162.6v5.8M221.98 165.5h5.8M234.05 153.14l5.4 5.4m0 -5.4l-5.4 5.4M236.75 152.94v5.8M233.85 155.84h5.8M245.93 140.12l5.4 5.4m0 -5.4l-5.4 5.4M248.62 139.92v5.8M245.73 142.82h5.8M257.8 138.86l5.4 5.4m0 -5.4l-5.4 5.4M260.5 138.66v5.8M257.6 141.56h5.8M269.68 162.8l5.4 5.4m0 -5.4l-5.4 5.4M272.38 162.6v5.8M269.48 165.5h5.8M281.55 169.1l5.4 5.4m0 -5.4l-5.4 5.4M284.25 168.9v5.8M281.35 171.8h5.8M293.43 162.8l5.4 5.4m0 -5.4l-5.4 5.4M296.12 162.6v5.8M293.23 165.5h5.8M305.3 171.2l5.4 5.4m0 -5.4l-5.4 5.4M308 171v5.8M305.1 173.9h5.8" stroke="#00ff00" stroke-width="1.1" fill="none"/>
<polyline points="23,174.32 34.88,183.14 46.75,189.86 58.62,198.68 70.5,184.82 82.38,184.82 94.25,171.8 106.12,171.8 118,183.14 129.88,183.14 141.75,187.76 153.62,191.96 165.5,196.16 177.38,200.78 189.25,196.16 201.12,200.78 213,198.68 224.88,190.28 236.75,181.46 248.62,171.8 260.5,167.6 272.38,167.6 284.25,190.28 296.12,189.86 308,205.4" stroke="#0000ff" stroke-width="1.2" fill="none" stroke-linejoin="round"/>
<path d="M20.3 171.62l5.4 5.4m0 -5.4l-5.4 5.4M23 171.42v5.8M20.1 174.32h5.8M32.17 180.44l5.4 5.4m0 -5.4l-5.4 5.4M34.88 180.24v5.8M31.97 183.14h5.8M44.05 187.16l5.4 5.4m0 -5.4l-5.4 5.4M46.75 186.96v5.8M43.85 189.86h5.8M55.92 195.98l5.4 5.4m0 -5.4l-5.4 5.4M58.62 195.78v5.8M55.72 198.68h5.8M67.8 182.12l5.4 5.4m0 -5.4l-5.4 5.4M70.5 181.92v5.8M67.6 184.82h5.8M79.67 182.12l5.4 5.4m0 -5.4l-5.4 5.4M82.38 181.92v5.8M79.47 184.82h5.8M91.55 169.1l5.4 5.4m0 -5.4l-5.4 5.4M94.25 168.9v5.8M91.35 171.8h5.8M103.42 169.1l5.4 5.4m0 -5.4l-5.4 5.4M106.12 168.9v5.8M103.22 171.8h5.8M115.3 180.44l5.4 5.4m0 -5.4l-5.4 5.4M118 180.24v5.8M115.1 183.14h5.8M127.17 180.44l5.4 5.4m0 -5.4l-5.4 5.4M129.88 180.24v5.8M126.97 183.14h5.8M139.05 185.06l5.4 5.4m0 -5.4l-5.4 5.4M141.75 184.86v5.8M138.85 187.76h5.8M150.93 189.26l5.4 5.4m0 -5.4l-5.4 5.4M153.62 189.06v5.8M150.73 191.96h5.8M162.8 193.46l5.4 5.4m0 -5.4l-5.4 5.4M165.5 193.26v5.8M162.6 196.16h5.8M174.68 198.08l5.4 5.4m0 -5.4l-5.4 5.4M177.38 197.88v5.8M174.48 200.78h5.8M186.55 193.46l5.4 5.4m0 -5.4l-5.4 5.4M189.25 193.26v5.8M186.35 196.16h5.8M198.43 198.08l5.4 5.4m0 -5.4l-5.4 5.4M201.12 197.88v5.8M198.23 200.78h5.8M210.3 195.98l5.4 5.4m0 -5.4l-5.4 5.4M213 195.78v5.8M210.1 198.68h5.8M222.18 187.58l5.4 5.4m0 -5.4l-5.4 5.4M224.88 187.38v5.8M221.98 190.28h5.8M234.05 178.76l5.4 5.4m0 -5.4l-5.4 5.4M236.75 178.56v5.8M233.85 181.46h5.8M245.93 169.1l5.4 5.4m0 -5.4l-5.4 5.4M248.62 168.9v5.8M245.73 171.8h5.8M257.8 164.9l5.4 5.4m0 -5.4l-5.4 5.4M260.5 164.7v5.8M257.6 167.6h5.8M269.68 164.9l5.4 5.4m0 -5.4l-5.4 5.4M272.38 164.7v5.8M269.48 167.6h5.8M281.55 187.58l5.4 5.4m0 -5.4l-5.4 5.4M284.25 187.38v5.8M281.35 190.28h5.8M293.43 187.16l5.4 5.4m0 -5.4l-5.4 5.4M296.12 186.96v5.8M293.23 189.86h5.8M305.3 202.7l5.4 5.4m0 -5.4l-5.4 5.4M308 202.5v5.8M305.1 205.4h5.8" stroke="#0000ff" stroke-width="1.1" fill="none"/>
<polyline points="23,205.4 34.88,205.4 46.75,207.5 58.62,213.8 70.5,214.22 82.38,205.4 94.25,197 106.12,183.56 118,171.8 129.88,163.4 141.75,174.32 153.62,181.04 165.5,178.52 177.38,191.12 189.25,189.02 201.12,178.1 213,178.1 224.88,183.98 236.75,171.8 248.62,162.98 260.5,159.2 272.38,178.1 284.25,187.76 296.12,191.12 308,196.16" stroke="#ff0000" stroke-width="1.2" fill="none" stroke-linejoin="round"/>
<path d="M20.3 202.7l5.4 5.4m0 -5.4l-5.4 5.4M23 202.5v5.8M20.1 205.4h5.8M32.17 202.7l5.4 5.4m0 -5.4l-5.4 5.4M34.88 202.5v5.8M31.97 205.4h5.8M44.05 204.8l5.4 5.4m0 -5.4l-5.4 5.4M46.75 204.6v5.8M43.85 207.5h5.8M55.92 211.1l5.4 5.4m0 -5.4l-5.4 5.4M58.62 210.9v5.8M55.72 213.8h5.8M67.8 211.52l5.4 5.4m0 -5.4l-5.4 5.4M70.5 211.32v5.8M67.6 214.22h5.8M79.67 202.7l5.4 5.4m0 -5.4l-5.4 5.4M82.38 202.5v5.8M79.47 205.4h5.8M91.55 194.3l5.4 5.4m0 -5.4l-5.4 5.4M94.25 194.1v5.8M91.35 197h5.8M103.42 180.86l5.4 5.4m0 -5.4l-5.4 5.4M106.12 180.66v5.8M103.22 183.56h5.8M115.3 169.1l5.4 5.4m0 -5.4l-5.4 5.4M118 168.9v5.8M115.1 171.8h5.8M127.17 160.7l5.4 5.4m0 -5.4l-5.4 5.4M129.88 160.5v5.8M126.97 163.4h5.8M139.05 171.62l5.4 5.4m0 -5.4l-5.4 5.4M141.75 171.42v5.8M138.85 174.32h5.8M150.93 178.34l5.4 5.4m0 -5.4l-5.4 5.4M153.62 178.14v5.8M150.73 181.04h5.8M162.8 175.82l5.4 5.4m0 -5.4l-5.4 5.4M165.5 175.62v5.8M162.6 178.52h5.8M174.68 188.42l5.4 5.4m0 -5.4l-5.4 5.4M177.38 188.22v5.8M174.48 191.12h5.8M186.55 186.32l5.4 5.4m0 -5.4l-5.4 5.4M189.25 186.12v5.8M186.35 189.02h5.8M198.43 175.4l5.4 5.4m0 -5.4l-5.4 5.4M201.12 175.2v5.8M198.23 178.1h5.8M210.3 175.4l5.4 5.4m0 -5.4l-5.4 5.4M213 175.2v5.8M210.1 178.1h5.8M222.18 181.28l5.4 5.4m0 -5.4l-5.4 5.4M224.88 181.08v5.8M221.98 183.98h5.8M234.05 169.1l5.4 5.4m0 -5.4l-5.4 5.4M236.75 168.9v5.8M233.85 171.8h5.8M245.93 160.28l5.4 5.4m0 -5.4l-5.4 5.4M248.62 160.08v5.8M245.73 162.98h5.8M257.8 156.5l5.4 5.4m0 -5.4l-5.4 5.4M260.5 156.3v5.8M257.6 159.2h5.8M269.68 175.4l5.4 5.4m0 -5.4l-5.4 5.4M272.38 175.2v5.8M269.48 178.1h5.8M281.55 185.06l5.4 5.4m0 -5.4l-5.4 5.4M284.25 184.86v5.8M281.35 187.76h5.8M293.43 188.42l5.4 5.4m0 -5.4l-5.4 5.4M296.12 188.22v5.8M293.23 191.12h5.8M305.3 193.46l5.4 5.4m0 -5.4l-5.4 5.4M308 193.26v5.8M305.1 196.16h5.8" stroke="#ff0000" stroke-width="1.1" fill="none"/>
</g>
<rect x="23" y="134" width="285" height="84" fill="none" stroke="#000" stroke-width="2"/>
<text transform="translate(18.2,221.1) scale(1.2,1)" text-anchor="end" class="lab">4</text>
<text transform="translate(18.2,212.7) scale(1.2,1)" text-anchor="end" class="lab">6</text>
<text transform="translate(18.2,204.3) scale(1.2,1)" text-anchor="end" class="lab">8</text>
<text transform="translate(18.2,195.9) scale(1.2,1)" text-anchor="end" class="lab">10</text>
<text transform="translate(18.2,187.5) scale(1.2,1)" text-anchor="end" class="lab">12</text>
<text transform="translate(18.2,179.1) scale(1.2,1)" text-anchor="end" class="lab">14</text>
<text transform="translate(18.2,170.7) scale(1.2,1)" text-anchor="end" class="lab">16</text>
<text transform="translate(18.2,162.3) scale(1.2,1)" text-anchor="end" class="lab">18</text>
<text transform="translate(18.2,153.9) scale(1.2,1)" text-anchor="end" class="lab">20</text>
<text transform="translate(18.2,145.5) scale(1.2,1)" text-anchor="end" class="lab">22</text>
<text transform="translate(18.2,137.1) scale(1.2,1)" text-anchor="end" class="lab">24</text>
<text transform="translate(23,229) scale(1.2,1)" text-anchor="middle" class="lab">0</text>
<text transform="translate(70.5,229) scale(1.2,1)" text-anchor="middle" class="lab">4</text>
<text transform="translate(118,229) scale(1.2,1)" text-anchor="middle" class="lab">8</text>
<text transform="translate(165.5,229) scale(1.2,1)" text-anchor="middle" class="lab">12</text>
<text transform="translate(213,229) scale(1.2,1)" text-anchor="middle" class="lab">16</text>
<text transform="translate(260.5,229) scale(1.2,1)" text-anchor="middle" class="lab">20</text>
<text transform="translate(308,229) scale(1.2,1)" text-anchor="middle" class="lab">24</text>
<text x="266" y="130.7" textLength="16.9" lengthAdjust="spacingAndGlyphs" class="ttl">NO2</text>
<text x="285.4" y="130.7" textLength="23.1" lengthAdjust="spacingAndGlyphs" class="ttl">(ppb)</text>
<clipPath id="c3"><rect x="348" y="134" width="285" height="84"/></clipPath>
<path d="M354.7 208.5H633 M354.7 199.5H633 M354.7 190.5H633 M354.7 180.5H633 M354.7 171.5H633 M354.7 162.5H633 M354.7 152.5H633 M354.7 143.5H633" stroke="#000" stroke-width="1.0" stroke-dasharray="1 2.15" fill="none" shape-rendering="crispEdges"/>
<path d="M395.5 142V218 M443.5 142V218 M490.5 142V218 M538.5 142V218 M585.5 142V218" stroke="#000" stroke-width="1.0" stroke-dasharray="1 2" fill="none" shape-rendering="crispEdges"/>
<path d="M348 213.5h4M633 213.5h-4M348 208.5h5.5M633 208.5h-5.5M348 204.5h4M633 204.5h-4M348 199.5h5.5M633 199.5h-5.5M348 194.5h4M633 194.5h-4M348 190.5h5.5M633 190.5h-5.5M348 185.5h4M633 185.5h-4M348 180.5h5.5M633 180.5h-5.5M348 176.5h4M633 176.5h-4M348 171.5h5.5M633 171.5h-5.5M348 166.5h4M633 166.5h-4M348 162.5h5.5M633 162.5h-5.5M348 157.5h4M633 157.5h-4M348 152.5h5.5M633 152.5h-5.5M348 148.5h4M633 148.5h-4M348 143.5h5.5M633 143.5h-5.5M348 138.5h4M633 138.5h-4M371.5 134v3.8M371.5 218v-3.8M395.5 134v6M395.5 218v-6M419.5 134v3.8M419.5 218v-3.8M443.5 134v6M443.5 218v-6M466.5 134v3.8M466.5 218v-3.8M490.5 134v6M490.5 218v-6M514.5 134v3.8M514.5 218v-3.8M538.5 134v6M538.5 218v-6M561.5 134v3.8M561.5 218v-3.8M585.5 134v6M585.5 218v-6M609.5 134v3.8M609.5 218v-3.8" stroke="#000" stroke-width="1" fill="none"/>
<g clip-path="url(#c3)">
<polyline points="348,134 359.88,157.33 371.75,171.33 383.62,171.33 395.5,176 407.38,180.67 419.25,180.67 431.12,190 443,171.33 454.88,157.33 466.75,157.33 478.62,171.33 490.5,190 502.38,185.33 514.25,190 526.12,194.67 538,199.33 549.88,185.33 561.75,138.67 573.62,166.67 585.5,185.33 597.38,194.67 609.25,194.67 621.12,180.67 633,171.33" stroke="#00ffff" stroke-width="1.2" fill="none" stroke-linejoin="round"/>
<path d="M345.3 131.3l5.4 5.4m0 -5.4l-5.4 5.4M348 131.1v5.8M345.1 134h5.8M357.18 154.63l5.4 5.4m0 -5.4l-5.4 5.4M359.88 154.43v5.8M356.98 157.33h5.8M369.05 168.63l5.4 5.4m0 -5.4l-5.4 5.4M371.75 168.43v5.8M368.85 171.33h5.8M380.93 168.63l5.4 5.4m0 -5.4l-5.4 5.4M383.62 168.43v5.8M380.73 171.33h5.8M392.8 173.3l5.4 5.4m0 -5.4l-5.4 5.4M395.5 173.1v5.8M392.6 176h5.8M404.68 177.97l5.4 5.4m0 -5.4l-5.4 5.4M407.38 177.77v5.8M404.48 180.67h5.8M416.55 177.97l5.4 5.4m0 -5.4l-5.4 5.4M419.25 177.77v5.8M416.35 180.67h5.8M428.43 187.3l5.4 5.4m0 -5.4l-5.4 5.4M431.12 187.1v5.8M428.23 190h5.8M440.3 168.63l5.4 5.4m0 -5.4l-5.4 5.4M443 168.43v5.8M440.1 171.33h5.8M452.18 154.63l5.4 5.4m0 -5.4l-5.4 5.4M454.88 154.43v5.8M451.98 157.33h5.8M464.05 154.63l5.4 5.4m0 -5.4l-5.4 5.4M466.75 154.43v5.8M463.85 157.33h5.8M475.93 168.63l5.4 5.4m0 -5.4l-5.4 5.4M478.62 168.43v5.8M475.73 171.33h5.8M487.8 187.3l5.4 5.4m0 -5.4l-5.4 5.4M490.5 187.1v5.8M487.6 190h5.8M499.68 182.63l5.4 5.4m0 -5.4l-5.4 5.4M502.38 182.43v5.8M499.48 185.33h5.8M511.55 187.3l5.4 5.4m0 -5.4l-5.4 5.4M514.25 187.1v5.8M511.35 190h5.8M523.42 191.97l5.4 5.4m0 -5.4l-5.4 5.4M526.12 191.77v5.8M523.22 194.67h5.8M535.3 196.63l5.4 5.4m0 -5.4l-5.4 5.4M538 196.43v5.8M535.1 199.33h5.8M547.17 182.63l5.4 5.4m0 -5.4l-5.4 5.4M549.88 182.43v5.8M546.97 185.33h5.8M559.05 135.97l5.4 5.4m0 -5.4l-5.4 5.4M561.75 135.77v5.8M558.85 138.67h5.8M570.92 163.97l5.4 5.4m0 -5.4l-5.4 5.4M573.62 163.77v5.8M570.72 166.67h5.8M582.8 182.63l5.4 5.4m0 -5.4l-5.4 5.4M585.5 182.43v5.8M582.6 185.33h5.8M594.67 191.97l5.4 5.4m0 -5.4l-5.4 5.4M597.38 191.77v5.8M594.47 194.67h5.8M606.55 191.97l5.4 5.4m0 -5.4l-5.4 5.4M609.25 191.77v5.8M606.35 194.67h5.8M618.42 177.97l5.4 5.4m0 -5.4l-5.4 5.4M621.12 177.77v5.8M618.22 180.67h5.8M630.3 168.63l5.4 5.4m0 -5.4l-5.4 5.4M633 168.43v5.8M630.1 171.33h5.8" stroke="#00ffff" stroke-width="1.1" fill="none"/>
<polyline points="348,171.33 359.88,162 371.75,157.33 383.62,166.67 395.5,185.33 407.38,199.33 419.25,190 431.12,180.67 443,162 454.88,162 466.75,166.67 478.62,190 490.5,194.67 502.38,162 514.25,157.33 526.12,162 538,171.33 549.88,166.67 561.75,148 573.62,162 585.5,171.33 597.38,166.67 609.25,157.33 621.12,157.33 633,171.33" stroke="#00ff00" stroke-width="1.2" fill="none" stroke-linejoin="round"/>
<path d="M345.3 168.63l5.4 5.4m0 -5.4l-5.4 5.4M348 168.43v5.8M345.1 171.33h5.8M357.18 159.3l5.4 5.4m0 -5.4l-5.4 5.4M359.88 159.1v5.8M356.98 162h5.8M369.05 154.63l5.4 5.4m0 -5.4l-5.4 5.4M371.75 154.43v5.8M368.85 157.33h5.8M380.93 163.97l5.4 5.4m0 -5.4l-5.4 5.4M383.62 163.77v5.8M380.73 166.67h5.8M392.8 182.63l5.4 5.4m0 -5.4l-5.4 5.4M395.5 182.43v5.8M392.6 185.33h5.8M404.68 196.63l5.4 5.4m0 -5.4l-5.4 5.4M407.38 196.43v5.8M404.48 199.33h5.8M416.55 187.3l5.4 5.4m0 -5.4l-5.4 5.4M419.25 187.1v5.8M416.35 190h5.8M428.43 177.97l5.4 5.4m0 -5.4l-5.4 5.4M431.12 177.77v5.8M428.23 180.67h5.8M440.3 159.3l5.4 5.4m0 -5.4l-5.4 5.4M443 159.1v5.8M440.1 162h5.8M452.18 159.3l5.4 5.4m0 -5.4l-5.4 5.4M454.88 159.1v5.8M451.98 162h5.8M464.05 163.97l5.4 5.4m0 -5.4l-5.4 5.4M466.75 163.77v5.8M463.85 166.67h5.8M475.93 187.3l5.4 5.4m0 -5.4l-5.4 5.4M478.62 187.1v5.8M475.73 190h5.8M487.8 191.97l5.4 5.4m0 -5.4l-5.4 5.4M490.5 191.77v5.8M487.6 194.67h5.8M499.68 159.3l5.4 5.4m0 -5.4l-5.4 5.4M502.38 159.1v5.8M499.48 162h5.8M511.55 154.63l5.4 5.4m0 -5.4l-5.4 5.4M514.25 154.43v5.8M511.35 157.33h5.8M523.42 159.3l5.4 5.4m0 -5.4l-5.4 5.4M526.12 159.1v5.8M523.22 162h5.8M535.3 168.63l5.4 5.4m0 -5.4l-5.4 5.4M538 168.43v5.8M535.1 171.33h5.8M547.17 163.97l5.4 5.4m0 -5.4l-5.4 5.4M549.88 163.77v5.8M546.97 166.67h5.8M559.05 145.3l5.4 5.4m0 -5.4l-5.4 5.4M561.75 145.1v5.8M558.85 148h5.8M570.92 159.3l5.4 5.4m0 -5.4l-5.4 5.4M573.62 159.1v5.8M570.72 162h5.8M582.8 168.63l5.4 5.4m0 -5.4l-5.4 5.4M585.5 168.43v5.8M582.6 171.33h5.8M594.67 163.97l5.4 5.4m0 -5.4l-5.4 5.4M597.38 163.77v5.8M594.47 166.67h5.8M606.55 154.63l5.4 5.4m0 -5.4l-5.4 5.4M609.25 154.43v5.8M606.35 157.33h5.8M618.42 154.63l5.4 5.4m0 -5.4l-5.4 5.4M621.12 154.43v5.8M618.22 157.33h5.8M630.3 168.63l5.4 5.4m0 -5.4l-5.4 5.4M633 168.43v5.8M630.1 171.33h5.8" stroke="#00ff00" stroke-width="1.1" fill="none"/>
<polyline points="348,171.33 359.88,185.33 371.75,204 383.62,194.67 395.5,171.33 407.38,152.67 419.25,171.33 431.12,204 443,208.67 454.88,190 466.75,176 478.62,180.67 490.5,185.33 502.38,180.67 514.25,162 526.12,180.67 538,190 549.88,185.33 561.75,199.33 573.62,199.33 585.5,199.33 597.38,171.33 609.25,162 621.12,176 633,171.33" stroke="#0000ff" stroke-width="1.2" fill="none" stroke-linejoin="round"/>
<path d="M345.3 168.63l5.4 5.4m0 -5.4l-5.4 5.4M348 168.43v5.8M345.1 171.33h5.8M357.18 182.63l5.4 5.4m0 -5.4l-5.4 5.4M359.88 182.43v5.8M356.98 185.33h5.8M369.05 201.3l5.4 5.4m0 -5.4l-5.4 5.4M371.75 201.1v5.8M368.85 204h5.8M380.93 191.97l5.4 5.4m0 -5.4l-5.4 5.4M383.62 191.77v5.8M380.73 194.67h5.8M392.8 168.63l5.4 5.4m0 -5.4l-5.4 5.4M395.5 168.43v5.8M392.6 171.33h5.8M404.68 149.97l5.4 5.4m0 -5.4l-5.4 5.4M407.38 149.77v5.8M404.48 152.67h5.8M416.55 168.63l5.4 5.4m0 -5.4l-5.4 5.4M419.25 168.43v5.8M416.35 171.33h5.8M428.43 201.3l5.4 5.4m0 -5.4l-5.4 5.4M431.12 201.1v5.8M428.23 204h5.8M440.3 205.97l5.4 5.4m0 -5.4l-5.4 5.4M443 205.77v5.8M440.1 208.67h5.8M452.18 187.3l5.4 5.4m0 -5.4l-5.4 5.4M454.88 187.1v5.8M451.98 190h5.8M464.05 173.3l5.4 5.4m0 -5.4l-5.4 5.4M466.75 173.1v5.8M463.85 176h5.8M475.93 177.97l5.4 5.4m0 -5.4l-5.4 5.4M478.62 177.77v5.8M475.73 180.67h5.8M487.8 182.63l5.4 5.4m0 -5.4l-5.4 5.4M490.5 182.43v5.8M487.6 185.33h5.8M499.68 177.97l5.4 5.4m0 -5.4l-5.4 5.4M502.38 177.77v5.8M499.48 180.67h5.8M511.55 159.3l5.4 5.4m0 -5.4l-5.4 5.4M514.25 159.1v5.8M511.35 162h5.8M523.42 177.97l5.4 5.4m0 -5.4l-5.4 5.4M526.12 177.77v5.8M523.22 180.67h5.8M535.3 187.3l5.4 5.4m0 -5.4l-5.4 5.4M538 187.1v5.8M535.1 190h5.8M547.17 182.63l5.4 5.4m0 -5.4l-5.4 5.4M549.88 182.43v5.8M546.97 185.33h5.8M559.05 196.63l5.4 5.4m0 -5.4l-5.4 5.4M561.75 196.43v5.8M558.85 199.33h5.8M570.92 196.63l5.4 5.4m0 -5.4l-5.4 5.4M573.62 196.43v5.8M570.72 199.33h5.8M582.8 196.63l5.4 5.4m0 -5.4l-5.4 5.4M585.5 196.43v5.8M582.6 199.33h5.8M594.67 168.63l5.4 5.4m0 -5.4l-5.4 5.4M597.38 168.43v5.8M594.47 171.33h5.8M606.55 159.3l5.4 5.4m0 -5.4l-5.4 5.4M609.25 159.1v5.8M606.35 162h5.8M618.42 173.3l5.4 5.4m0 -5.4l-5.4 5.4M621.12 173.1v5.8M618.22 176h5.8M630.3 168.63l5.4 5.4m0 -5.4l-5.4 5.4M633 168.43v5.8M630.1 171.33h5.8" stroke="#0000ff" stroke-width="1.1" fill="none"/>
<polyline points="348,171.33 359.88,185.33 371.75,199.33 383.62,204 395.5,194.67 407.38,176 419.25,185.33 431.12,204 443,213.33 454.88,199.33 466.75,180.67 478.62,180.67 490.5,171.33 502.38,157.33 514.25,176 526.12,194.67 538,204 549.88,185.33 561.75,166.67 573.62,162 585.5,152.67 597.38,180.67 609.25,199.33 621.12,194.67 633,190" stroke="#ff0000" stroke-width="1.2" fill="none" stroke-linejoin="round"/>
<path d="M345.3 168.63l5.4 5.4m0 -5.4l-5.4 5.4M348 168.43v5.8M345.1 171.33h5.8M357.18 182.63l5.4 5.4m0 -5.4l-5.4 5.4M359.88 182.43v5.8M356.98 185.33h5.8M369.05 196.63l5.4 5.4m0 -5.4l-5.4 5.4M371.75 196.43v5.8M368.85 199.33h5.8M380.93 201.3l5.4 5.4m0 -5.4l-5.4 5.4M383.62 201.1v5.8M380.73 204h5.8M392.8 191.97l5.4 5.4m0 -5.4l-5.4 5.4M395.5 191.77v5.8M392.6 194.67h5.8M404.68 173.3l5.4 5.4m0 -5.4l-5.4 5.4M407.38 173.1v5.8M404.48 176h5.8M416.55 182.63l5.4 5.4m0 -5.4l-5.4 5.4M419.25 182.43v5.8M416.35 185.33h5.8M428.43 201.3l5.4 5.4m0 -5.4l-5.4 5.4M431.12 201.1v5.8M428.23 204h5.8M440.3 210.63l5.4 5.4m0 -5.4l-5.4 5.4M443 210.43v5.8M440.1 213.33h5.8M452.18 196.63l5.4 5.4m0 -5.4l-5.4 5.4M454.88 196.43v5.8M451.98 199.33h5.8M464.05 177.97l5.4 5.4m0 -5.4l-5.4 5.4M466.75 177.77v5.8M463.85 180.67h5.8M475.93 177.97l5.4 5.4m0 -5.4l-5.4 5.4M478.62 177.77v5.8M475.73 180.67h5.8M487.8 168.63l5.4 5.4m0 -5.4l-5.4 5.4M490.5 168.43v5.8M487.6 171.33h5.8M499.68 154.63l5.4 5.4m0 -5.4l-5.4 5.4M502.38 154.43v5.8M499.48 157.33h5.8M511.55 173.3l5.4 5.4m0 -5.4l-5.4 5.4M514.25 173.1v5.8M511.35 176h5.8M523.42 191.97l5.4 5.4m0 -5.4l-5.4 5.4M526.12 191.77v5.8M523.22 194.67h5.8M535.3 201.3l5.4 5.4m0 -5.4l-5.4 5.4M538 201.1v5.8M535.1 204h5.8M547.17 182.63l5.4 5.4m0 -5.4l-5.4 5.4M549.88 182.43v5.8M546.97 185.33h5.8M559.05 163.97l5.4 5.4m0 -5.4l-5.4 5.4M561.75 163.77v5.8M558.85 166.67h5.8M570.92 159.3l5.4 5.4m0 -5.4l-5.4 5.4M573.62 159.1v5.8M570.72 162h5.8M582.8 149.97l5.4 5.4m0 -5.4l-5.4 5.4M585.5 149.77v5.8M582.6 152.67h5.8M594.67 177.97l5.4 5.4m0 -5.4l-5.4 5.4M597.38 177.77v5.8M594.47 180.67h5.8M606.55 196.63l5.4 5.4m0 -5.4l-5.4 5.4M609.25 196.43v5.8M606.35 199.33h5.8M618.42 191.97l5.4 5.4m0 -5.4l-5.4 5.4M621.12 191.77v5.8M618.22 194.67h5.8M630.3 187.3l5.4 5.4m0 -5.4l-5.4 5.4M633 187.1v5.8M630.1 190h5.8" stroke="#ff0000" stroke-width="1.1" fill="none"/>
</g>
<rect x="348" y="134" width="285" height="84" fill="none" stroke="#000" stroke-width="2"/>
<text transform="translate(343.2,221.1) scale(1.2,1)" text-anchor="end" class="lab">6</text>
<text transform="translate(343.2,211.77) scale(1.2,1)" text-anchor="end" class="lab">8</text>
<text transform="translate(343.2,202.43) scale(1.2,1)" text-anchor="end" class="lab">10</text>
<text transform="translate(343.2,193.1) scale(1.2,1)" text-anchor="end" class="lab">12</text>
<text transform="translate(343.2,183.77) scale(1.2,1)" text-anchor="end" class="lab">14</text>
<text transform="translate(343.2,174.43) scale(1.2,1)" text-anchor="end" class="lab">16</text>
<text transform="translate(343.2,165.1) scale(1.2,1)" text-anchor="end" class="lab">18</text>
<text transform="translate(343.2,155.77) scale(1.2,1)" text-anchor="end" class="lab">20</text>
<text transform="translate(343.2,146.43) scale(1.2,1)" text-anchor="end" class="lab">22</text>
<text transform="translate(343.2,137.1) scale(1.2,1)" text-anchor="end" class="lab">24</text>
<text transform="translate(348,229) scale(1.2,1)" text-anchor="middle" class="lab">0</text>
<text transform="translate(395.5,229) scale(1.2,1)" text-anchor="middle" class="lab">4</text>
<text transform="translate(443,229) scale(1.2,1)" text-anchor="middle" class="lab">8</text>
<text transform="translate(490.5,229) scale(1.2,1)" text-anchor="middle" class="lab">12</text>
<text transform="translate(538,229) scale(1.2,1)" text-anchor="middle" class="lab">16</text>
<text transform="translate(585.5,229) scale(1.2,1)" text-anchor="middle" class="lab">20</text>
<text transform="translate(633,229) scale(1.2,1)" text-anchor="middle" class="lab">24</text>
<text x="576.9" y="130.7" textLength="16.3" lengthAdjust="spacingAndGlyphs" class="ttl">RSP</text>
<text x="596.5" y="130.7" textLength="37.9" lengthAdjust="spacingAndGlyphs" class="ttl">(ug/m3)</text>
<clipPath id="c4"><rect x="673" y="134" width="285" height="84"/></clipPath>
<path d="M679.7 204.5H958 M679.7 190.5H958 M679.7 176.5H958 M679.7 162.5H958 M679.7 148.5H958" stroke="#000" stroke-width="1.0" stroke-dasharray="1 2.15" fill="none" shape-rendering="crispEdges"/>
<path d="M720.5 142V218 M768.5 142V218 M815.5 142V218 M863.5 142V218 M910.5 142V218" stroke="#000" stroke-width="1.0" stroke-dasharray="1 2" fill="none" shape-rendering="crispEdges"/>
<path d="M673 211.5h4M958 211.5h-4M673 204.5h5.5M958 204.5h-5.5M673 197.5h4M958 197.5h-4M673 190.5h5.5M958 190.5h-5.5M673 183.5h4M958 183.5h-4M673 176.5h5.5M958 176.5h-5.5M673 169.5h4M958 169.5h-4M673 162.5h5.5M958 162.5h-5.5M673 155.5h4M958 155.5h-4M673 148.5h5.5M958 148.5h-5.5M673 141.5h4M958 141.5h-4M696.5 134v3.8M696.5 218v-3.8M720.5 134v6M720.5 218v-6M744.5 134v3.8M744.5 218v-3.8M768.5 134v6M768.5 218v-6M791.5 134v3.8M791.5 218v-3.8M815.5 134v6M815.5 218v-6M839.5 134v3.8M839.5 218v-3.8M863.5 134v6M863.5 218v-6M886.5 134v3.8M886.5 218v-3.8M910.5 134v6M910.5 218v-6M934.5 134v3.8M934.5 218v-3.8" stroke="#000" stroke-width="1" fill="none"/>
<g clip-path="url(#c4)">
<polyline points="673,155 684.88,162 696.75,176 708.62,190 720.5,197 732.38,176 744.25,176 756.12,197 768,190 779.88,190 791.75,176 803.62,183 815.5,197 827.38,211 839.25,204 851.12,183 863,211 874.88,183 886.75,162 898.62,176 910.5,190 922.38,197 934.25,183 946.12,176 958,148" stroke="#00ffff" stroke-width="1.2" fill="none" stroke-linejoin="round"/>
<path d="M670.3 152.3l5.4 5.4m0 -5.4l-5.4 5.4M673 152.1v5.8M670.1 155h5.8M682.17 159.3l5.4 5.4m0 -5.4l-5.4 5.4M684.88 159.1v5.8M681.97 162h5.8M694.05 173.3l5.4 5.4m0 -5.4l-5.4 5.4M696.75 173.1v5.8M693.85 176h5.8M705.92 187.3l5.4 5.4m0 -5.4l-5.4 5.4M708.62 187.1v5.8M705.72 190h5.8M717.8 194.3l5.4 5.4m0 -5.4l-5.4 5.4M720.5 194.1v5.8M717.6 197h5.8M729.67 173.3l5.4 5.4m0 -5.4l-5.4 5.4M732.38 173.1v5.8M729.47 176h5.8M741.55 173.3l5.4 5.4m0 -5.4l-5.4 5.4M744.25 173.1v5.8M741.35 176h5.8M753.42 194.3l5.4 5.4m0 -5.4l-5.4 5.4M756.12 194.1v5.8M753.22 197h5.8M765.3 187.3l5.4 5.4m0 -5.4l-5.4 5.4M768 187.1v5.8M765.1 190h5.8M777.17 187.3l5.4 5.4m0 -5.4l-5.4 5.4M779.88 187.1v5.8M776.97 190h5.8M789.05 173.3l5.4 5.4m0 -5.4l-5.4 5.4M791.75 173.1v5.8M788.85 176h5.8M800.92 180.3l5.4 5.4m0 -5.4l-5.4 5.4M803.62 180.1v5.8M800.72 183h5.8M812.8 194.3l5.4 5.4m0 -5.4l-5.4 5.4M815.5 194.1v5.8M812.6 197h5.8M824.67 208.3l5.4 5.4m0 -5.4l-5.4 5.4M827.38 208.1v5.8M824.47 211h5.8M836.55 201.3l5.4 5.4m0 -5.4l-5.4 5.4M839.25 201.1v5.8M836.35 204h5.8M848.42 180.3l5.4 5.4m0 -5.4l-5.4 5.4M851.12 180.1v5.8M848.22 183h5.8M860.3 208.3l5.4 5.4m0 -5.4l-5.4 5.4M863 208.1v5.8M860.1 211h5.8M872.17 180.3l5.4 5.4m0 -5.4l-5.4 5.4M874.88 180.1v5.8M871.97 183h5.8M884.05 159.3l5.4 5.4m0 -5.4l-5.4 5.4M886.75 159.1v5.8M883.85 162h5.8M895.92 173.3l5.4 5.4m0 -5.4l-5.4 5.4M898.62 173.1v5.8M895.72 176h5.8M907.8 187.3l5.4 5.4m0 -5.4l-5.4 5.4M910.5 187.1v5.8M907.6 190h5.8M919.67 194.3l5.4 5.4m0 -5.4l-5.4 5.4M922.38 194.1v5.8M919.47 197h5.8M931.55 180.3l5.4 5.4m0 -5.4l-5.4 5.4M934.25 180.1v5.8M931.35 183h5.8M943.42 173.3l5.4 5.4m0 -5.4l-5.4 5.4M946.12 173.1v5.8M943.22 176h5.8M955.3 145.3l5.4 5.4m0 -5.4l-5.4 5.4M958 145.1v5.8M955.1 148h5.8" stroke="#00ffff" stroke-width="1.1" fill="none"/>
<polyline points="673,155 684.88,162 696.75,183 708.62,190 720.5,176 732.38,183 744.25,197 756.12,197 768,176 779.88,190 791.75,197 803.62,197 815.5,190 827.38,155 839.25,169 851.12,183 863,183 874.88,176 886.75,162 898.62,162 910.5,176 922.38,169 934.25,162 946.12,141 958,169" stroke="#00ff00" stroke-width="1.2" fill="none" stroke-linejoin="round"/>
<path d="M670.3 152.3l5.4 5.4m0 -5.4l-5.4 5.4M673 152.1v5.8M670.1 155h5.8M682.17 159.3l5.4 5.4m0 -5.4l-5.4 5.4M684.88 159.1v5.8M681.97 162h5.8M694.05 180.3l5.4 5.4m0 -5.4l-5.4 5.4M696.75 180.1v5.8M693.85 183h5.8M705.92 187.3l5.4 5.4m0 -5.4l-5.4 5.4M708.62 187.1v5.8M705.72 190h5.8M717.8 173.3l5.4 5.4m0 -5.4l-5.4 5.4M720.5 173.1v5.8M717.6 176h5.8M729.67 180.3l5.4 5.4m0 -5.4l-5.4 5.4M732.38 180.1v5.8M729.47 183h5.8M741.55 194.3l5.4 5.4m0 -5.4l-5.4 5.4M744.25 194.1v5.8M741.35 197h5.8M753.42 194.3l5.4 5.4m0 -5.4l-5.4 5.4M756.12 194.1v5.8M753.22 197h5.8M765.3 173.3l5.4 5.4m0 -5.4l-5.4 5.4M768 173.1v5.8M765.1 176h5.8M777.17 187.3l5.4 5.4m0 -5.4l-5.4 5.4M779.88 187.1v5.8M776.97 190h5.8M789.05 194.3l5.4 5.4m0 -5.4l-5.4 5.4M791.75 194.1v5.8M788.85 197h5.8M800.92 194.3l5.4 5.4m0 -5.4l-5.4 5.4M803.62 194.1v5.8M800.72 197h5.8M812.8 187.3l5.4 5.4m0 -5.4l-5.4 5.4M815.5 187.1v5.8M812.6 190h5.8M824.67 152.3l5.4 5.4m0 -5.4l-5.4 5.4M827.38 152.1v5.8M824.47 155h5.8M836.55 166.3l5.4 5.4m0 -5.4l-5.4 5.4M839.25 166.1v5.8M836.35 169h5.8M848.42 180.3l5.4 5.4m0 -5.4l-5.4 5.4M851.12 180.1v5.8M848.22 183h5.8M860.3 180.3l5.4 5.4m0 -5.4l-5.4 5.4M863 180.1v5.8M860.1 183h5.8M872.17 173.3l5.4 5.4m0 -5.4l-5.4 5.4M874.88 173.1v5.8M871.97 176h5.8M884.05 159.3l5.4 5.4m0 -5.4l-5.4 5.4M886.75 159.1v5.8M883.85 162h5.8M895.92 159.3l5.4 5.4m0 -5.4l-5.4 5.4M898.62 159.1v5.8M895.72 162h5.8M907.8 173.3l5.4 5.4m0 -5.4l-5.4 5.4M910.5 173.1v5.8M907.6 176h5.8M919.67 166.3l5.4 5.4m0 -5.4l-5.4 5.4M922.38 166.1v5.8M919.47 169h5.8M931.55 159.3l5.4 5.4m0 -5.4l-5.4 5.4M934.25 159.1v5.8M931.35 162h5.8M943.42 138.3l5.4 5.4m0 -5.4l-5.4 5.4M946.12 138.1v5.8M943.22 141h5.8M955.3 166.3l5.4 5.4m0 -5.4l-5.4 5.4M958 166.1v5.8M955.1 169h5.8" stroke="#00ff00" stroke-width="1.1" fill="none"/>
<polyline points="673,169 684.88,190 696.75,197 708.62,197 720.5,169 732.38,162 744.25,169 756.12,211 768,218 779.88,204 791.75,176 803.62,190 815.5,204 827.38,190 839.25,162 851.12,162 863,204 874.88,204 886.75,204 898.62,176 910.5,162 922.38,176 934.25,190 946.12,183 958,148" stroke="#0000ff" stroke-width="1.2" fill="none" stroke-linejoin="round"/>
<path d="M670.3 166.3l5.4 5.4m0 -5.4l-5.4 5.4M673 166.1v5.8M670.1 169h5.8M682.17 187.3l5.4 5.4m0 -5.4l-5.4 5.4M684.88 187.1v5.8M681.97 190h5.8M694.05 194.3l5.4 5.4m0 -5.4l-5.4 5.4M696.75 194.1v5.8M693.85 197h5.8M705.92 194.3l5.4 5.4m0 -5.4l-5.4 5.4M708.62 194.1v5.8M705.72 197h5.8M717.8 166.3l5.4 5.4m0 -5.4l-5.4 5.4M720.5 166.1v5.8M717.6 169h5.8M729.67 159.3l5.4 5.4m0 -5.4l-5.4 5.4M732.38 159.1v5.8M729.47 162h5.8M741.55 166.3l5.4 5.4m0 -5.4l-5.4 5.4M744.25 166.1v5.8M741.35 169h5.8M753.42 208.3l5.4 5.4m0 -5.4l-5.4 5.4M756.12 208.1v5.8M753.22 211h5.8M765.3 215.3l5.4 5.4m0 -5.4l-5.4 5.4M768 215.1v5.8M765.1 218h5.8M777.17 201.3l5.4 5.4m0 -5.4l-5.4 5.4M779.88 201.1v5.8M776.97 204h5.8M789.05 173.3l5.4 5.4m0 -5.4l-5.4 5.4M791.75 173.1v5.8M788.85 176h5.8M800.92 187.3l5.4 5.4m0 -5.4l-5.4 5.4M803.62 187.1v5.8M800.72 190h5.8M812.8 201.3l5.4 5.4m0 -5.4l-5.4 5.4M815.5 201.1v5.8M812.6 204h5.8M824.67 187.3l5.4 5.4m0 -5.4l-5.4 5.4M827.38 187.1v5.8M824.47 190h5.8M836.55 159.3l5.4 5.4m0 -5.4l-5.4 5.4M839.25 159.1v5.8M836.35 162h5.8M848.42 159.3l5.4 5.4m0 -5.4l-5.4 5.4M851.12 159.1v5.8M848.22 162h5.8M860.3 201.3l5.4 5.4m0 -5.4l-5.4 5.4M863 201.1v5.8M860.1 204h5.8M872.17 201.3l5.4 5.4m0 -5.4l-5.4 5.4M874.88 201.1v5.8M871.97 204h5.8M884.05 201.3l5.4 5.4m0 -5.4l-5.4 5.4M886.75 201.1v5.8M883.85 204h5.8M895.92 173.3l5.4 5.4m0 -5.4l-5.4 5.4M898.62 173.1v5.8M895.72 176h5.8M907.8 159.3l5.4 5.4m0 -5.4l-5.4 5.4M910.5 159.1v5.8M907.6 162h5.8M919.67 173.3l5.4 5.4m0 -5.4l-5.4 5.4M922.38 173.1v5.8M919.47 176h5.8M931.55 187.3l5.4 5.4m0 -5.4l-5.4 5.4M934.25 187.1v5.8M931.35 190h5.8M943.42 180.3l5.4 5.4m0 -5.4l-5.4 5.4M946.12 180.1v5.8M943.22 183h5.8M955.3 145.3l5.4 5.4m0 -5.4l-5.4 5.4M958 145.1v5.8M955.1 148h5.8" stroke="#0000ff" stroke-width="1.1" fill="none"/>
<polyline points="673,148 684.88,169 696.75,218 708.62,218 720.5,197 732.38,148 744.25,162 756.12,190 768,211 779.88,204 791.75,197 803.62,197 815.5,190 827.38,183 839.25,169 851.12,197 863,204 874.88,190 886.75,197 898.62,211 910.5,169 922.38,155 934.25,148 946.12,169 958,183" stroke="#ff0000" stroke-width="1.2" fill="none" stroke-linejoin="round"/>
<path d="M670.3 145.3l5.4 5.4m0 -5.4l-5.4 5.4M673 145.1v5.8M670.1 148h5.8M682.17 166.3l5.4 5.4m0 -5.4l-5.4 5.4M684.88 166.1v5.8M681.97 169h5.8M694.05 215.3l5.4 5.4m0 -5.4l-5.4 5.4M696.75 215.1v5.8M693.85 218h5.8M705.92 215.3l5.4 5.4m0 -5.4l-5.4 5.4M708.62 215.1v5.8M705.72 218h5.8M717.8 194.3l5.4 5.4m0 -5.4l-5.4 5.4M720.5 194.1v5.8M717.6 197h5.8M729.67 145.3l5.4 5.4m0 -5.4l-5.4 5.4M732.38 145.1v5.8M729.47 148h5.8M741.55 159.3l5.4 5.4m0 -5.4l-5.4 5.4M744.25 159.1v5.8M741.35 162h5.8M753.42 187.3l5.4 5.4m0 -5.4l-5.4 5.4M756.12 187.1v5.8M753.22 190h5.8M765.3 208.3l5.4 5.4m0 -5.4l-5.4 5.4M768 208.1v5.8M765.1 211h5.8M777.17 201.3l5.4 5.4m0 -5.4l-5.4 5.4M779.88 201.1v5.8M776.97 204h5.8M789.05 194.3l5.4 5.4m0 -5.4l-5.4 5.4M791.75 194.1v5.8M788.85 197h5.8M800.92 194.3l5.4 5.4m0 -5.4l-5.4 5.4M803.62 194.1v5.8M800.72 197h5.8M812.8 187.3l5.4 5.4m0 -5.4l-5.4 5.4M815.5 187.1v5.8M812.6 190h5.8M824.67 180.3l5.4 5.4m0 -5.4l-5.4 5.4M827.38 180.1v5.8M824.47 183h5.8M836.55 166.3l5.4 5.4m0 -5.4l-5.4 5.4M839.25 166.1v5.8M836.35 169h5.8M848.42 194.3l5.4 5.4m0 -5.4l-5.4 5.4M851.12 194.1v5.8M848.22 197h5.8M860.3 201.3l5.4 5.4m0 -5.4l-5.4 5.4M863 201.1v5.8M860.1 204h5.8M872.17 187.3l5.4 5.4m0 -5.4l-5.4 5.4M874.88 187.1v5.8M871.97 190h5.8M884.05 194.3l5.4 5.4m0 -5.4l-5.4 5.4M886.75 194.1v5.8M883.85 197h5.8M895.92 208.3l5.4 5.4m0 -5.4l-5.4 5.4M898.62 208.1v5.8M895.72 211h5.8M907.8 166.3l5.4 5.4m0 -5.4l-5.4 5.4M910.5 166.1v5.8M907.6 169h5.8M919.67 152.3l5.4 5.4m0 -5.4l-5.4 5.4M922.38 152.1v5.8M919.47 155h5.8M931.55 145.3l5.4 5.4m0 -5.4l-5.4 5.4M934.25 145.1v5.8M931.35 148h5.8M943.42 166.3l5.4 5.4m0 -5.4l-5.4 5.4M946.12 166.1v5.8M943.22 169h5.8M955.3 180.3l5.4 5.4m0 -5.4l-5.4 5.4M958 180.1v5.8M955.1 183h5.8" stroke="#ff0000" stroke-width="1.1" fill="none"/>
</g>
<rect x="673" y="134" width="285" height="84" fill="none" stroke="#000" stroke-width="2"/>
<text transform="translate(668.2,221.1) scale(1.2,1)" text-anchor="end" class="lab">0</text>
<text transform="translate(668.2,207.1) scale(1.2,1)" text-anchor="end" class="lab">2</text>
<text transform="translate(668.2,193.1) scale(1.2,1)" text-anchor="end" class="lab">4</text>
<text transform="translate(668.2,179.1) scale(1.2,1)" text-anchor="end" class="lab">6</text>
<text transform="translate(668.2,165.1) scale(1.2,1)" text-anchor="end" class="lab">8</text>
<text transform="translate(668.2,151.1) scale(1.2,1)" text-anchor="end" class="lab">10</text>
<text transform="translate(668.2,137.1) scale(1.2,1)" text-anchor="end" class="lab">12</text>
<text transform="translate(673,229) scale(1.2,1)" text-anchor="middle" class="lab">0</text>
<text transform="translate(720.5,229) scale(1.2,1)" text-anchor="middle" class="lab">4</text>
<text transform="translate(768,229) scale(1.2,1)" text-anchor="middle" class="lab">8</text>
<text transform="translate(815.5,229) scale(1.2,1)" text-anchor="middle" class="lab">12</text>
<text transform="translate(863,229) scale(1.2,1)" text-anchor="middle" class="lab">16</text>
<text transform="translate(910.5,229) scale(1.2,1)" text-anchor="middle" class="lab">20</text>
<text transform="translate(958,229) scale(1.2,1)" text-anchor="middle" class="lab">24</text>
<text x="902.2" y="130.7" textLength="16" lengthAdjust="spacingAndGlyphs" class="ttl">FSP</text>
<text x="921.5" y="130.7" textLength="37.9" lengthAdjust="spacingAndGlyphs" class="ttl">(ug/m3)</text>
<clipPath id="c5"><rect x="23" y="242" width="285" height="84"/></clipPath>
<path d="M29.7 316.5H308 M29.7 307.5H308 M29.7 298.5H308 M29.7 288.5H308 M29.7 279.5H308 M29.7 270.5H308 M29.7 260.5H308 M29.7 251.5H308" stroke="#000" stroke-width="1.0" stroke-dasharray="1 2.15" fill="none" shape-rendering="crispEdges"/>
<path d="M70.5 250V326 M118.5 250V326 M165.5 250V326 M213.5 250V326 M260.5 250V326" stroke="#000" stroke-width="1.0" stroke-dasharray="1 2" fill="none" shape-rendering="crispEdges"/>
<path d="M23 321.5h4M308 321.5h-4M23 316.5h5.5M308 316.5h-5.5M23 312.5h4M308 312.5h-4M23 307.5h5.5M308 307.5h-5.5M23 302.5h4M308 302.5h-4M23 298.5h5.5M308 298.5h-5.5M23 293.5h4M308 293.5h-4M23 288.5h5.5M308 288.5h-5.5M23 284.5h4M308 284.5h-4M23 279.5h5.5M308 279.5h-5.5M23 274.5h4M308 274.5h-4M23 270.5h5.5M308 270.5h-5.5M23 265.5h4M308 265.5h-4M23 260.5h5.5M308 260.5h-5.5M23 256.5h4M308 256.5h-4M23 251.5h5.5M308 251.5h-5.5M23 246.5h4M308 246.5h-4M46.5 242v3.8M46.5 326v-3.8M70.5 242v6M70.5 326v-6M94.5 242v3.8M94.5 326v-3.8M118.5 242v6M118.5 326v-6M141.5 242v3.8M141.5 326v-3.8M165.5 242v6M165.5 326v-6M189.5 242v3.8M189.5 326v-3.8M213.5 242v6M213.5 326v-6M236.5 242v3.8M236.5 326v-3.8M260.5 242v6M260.5 326v-6M284.5 242v3.8M284.5 326v-3.8" stroke="#000" stroke-width="1" fill="none"/>
<g clip-path="url(#c5)">
<polyline points="23,283.59 34.88,283.59 46.75,283.59 58.62,283.59 70.5,265.78 82.38,301.41 94.25,265.78 106.12,283.59 118,283.59 129.88,247.96 141.75,247.96 153.62,265.78 165.5,301.41 177.38,301.41 189.25,283.59 201.12,301.41 213,265.78 224.88,265.78 236.75,265.78 248.62,247.96 260.5,283.59 272.38,265.78 284.25,265.78 296.12,265.78 308,283.59" stroke="#00ffff" stroke-width="1.2" fill="none" stroke-linejoin="round"/>
<path d="M20.3 280.89l5.4 5.4m0 -5.4l-5.4 5.4M23 280.69v5.8M20.1 283.59h5.8M32.17 280.89l5.4 5.4m0 -5.4l-5.4 5.4M34.88 280.69v5.8M31.97 283.59h5.8M44.05 280.89l5.4 5.4m0 -5.4l-5.4 5.4M46.75 280.69v5.8M43.85 283.59h5.8M55.92 280.89l5.4 5.4m0 -5.4l-5.4 5.4M58.62 280.69v5.8M55.72 283.59h5.8M67.8 263.08l5.4 5.4m0 -5.4l-5.4 5.4M70.5 262.88v5.8M67.6 265.78h5.8M79.67 298.71l5.4 5.4m0 -5.4l-5.4 5.4M82.38 298.51v5.8M79.47 301.41h5.8M91.55 263.08l5.4 5.4m0 -5.4l-5.4 5.4M94.25 262.88v5.8M91.35 265.78h5.8M103.42 280.89l5.4 5.4m0 -5.4l-5.4 5.4M106.12 280.69v5.8M103.22 283.59h5.8M115.3 280.89l5.4 5.4m0 -5.4l-5.4 5.4M118 280.69v5.8M115.1 283.59h5.8M127.17 245.26l5.4 5.4m0 -5.4l-5.4 5.4M129.88 245.06v5.8M126.97 247.96h5.8M139.05 245.26l5.4 5.4m0 -5.4l-5.4 5.4M141.75 245.06v5.8M138.85 247.96h5.8M150.93 263.08l5.4 5.4m0 -5.4l-5.4 5.4M153.62 262.88v5.8M150.73 265.78h5.8M162.8 298.71l5.4 5.4m0 -5.4l-5.4 5.4M165.5 298.51v5.8M162.6 301.41h5.8M174.68 298.71l5.4 5.4m0 -5.4l-5.4 5.4M177.38 298.51v5.8M174.48 301.41h5.8M186.55 280.89l5.4 5.4m0 -5.4l-5.4 5.4M189.25 280.69v5.8M186.35 283.59h5.8M198.43 298.71l5.4 5.4m0 -5.4l-5.4 5.4M201.12 298.51v5.8M198.23 301.41h5.8M210.3 263.08l5.4 5.4m0 -5.4l-5.4 5.4M213 262.88v5.8M210.1 265.78h5.8M222.18 263.08l5.4 5.4m0 -5.4l-5.4 5.4M224.88 262.88v5.8M221.98 265.78h5.8M234.05 263.08l5.4 5.4m0 -5.4l-5.4 5.4M236.75 262.88v5.8M233.85 265.78h5.8M245.93 245.26l5.4 5.4m0 -5.4l-5.4 5.4M248.62 245.06v5.8M245.73 247.96h5.8M257.8 280.89l5.4 5.4m0 -5.4l-5.4 5.4M260.5 280.69v5.8M257.6 283.59h5.8M269.68 263.08l5.4 5.4m0 -5.4l-5.4 5.4M272.38 262.88v5.8M269.48 265.78h5.8M281.55 263.08l5.4 5.4m0 -5.4l-5.4 5.4M284.25 262.88v5.8M281.35 265.78h5.8M293.43 263.08l5.4 5.4m0 -5.4l-5.4 5.4M296.12 262.88v5.8M293.23 265.78h5.8M305.3 280.89l5.4 5.4m0 -5.4l-5.4 5.4M308 280.69v5.8M305.1 283.59h5.8" stroke="#00ffff" stroke-width="1.1" fill="none"/>
<polyline points="23,283.59 34.88,265.78 46.75,283.59 58.62,283.59 70.5,265.78 82.38,283.59 94.25,283.59 106.12,283.59 118,247.96 129.88,265.78 141.75,283.59 153.62,265.78 165.5,283.59 177.38,301.41 189.25,283.59 201.12,301.41 213,283.59 224.88,265.78 236.75,265.78 248.62,283.59 260.5,283.59 272.38,301.41 284.25,301.41 296.12,283.59 308,301.41" stroke="#00ff00" stroke-width="1.2" fill="none" stroke-linejoin="round"/>
<path d="M20.3 280.89l5.4 5.4m0 -5.4l-5.4 5.4M23 280.69v5.8M20.1 283.59h5.8M32.17 263.08l5.4 5.4m0 -5.4l-5.4 5.4M34.88 262.88v5.8M31.97 265.78h5.8M44.05 280.89l5.4 5.4m0 -5.4l-5.4 5.4M46.75 280.69v5.8M43.85 283.59h5.8M55.92 280.89l5.4 5.4m0 -5.4l-5.4 5.4M58.62 280.69v5.8M55.72 283.59h5.8M67.8 263.08l5.4 5.4m0 -5.4l-5.4 5.4M70.5 262.88v5.8M67.6 265.78h5.8M79.67 280.89l5.4 5.4m0 -5.4l-5.4 5.4M82.38 280.69v5.8M79.47 283.59h5.8M91.55 280.89l5.4 5.4m0 -5.4l-5.4 5.4M94.25 280.69v5.8M91.35 283.59h5.8M103.42 280.89l5.4 5.4m0 -5.4l-5.4 5.4M106.12 280.69v5.8M103.22 283.59h5.8M115.3 245.26l5.4 5.4m0 -5.4l-5.4 5.4M118 245.06v5.8M115.1 247.96h5.8M127.17 263.08l5.4 5.4m0 -5.4l-5.4 5.4M129.88 262.88v5.8M126.97 265.78h5.8M139.05 280.89l5.4 5.4m0 -5.4l-5.4 5.4M141.75 280.69v5.8M138.85 283.59h5.8M150.93 263.08l5.4 5.4m0 -5.4l-5.4 5.4M153.62 262.88v5.8M150.73 265.78h5.8M162.8 280.89l5.4 5.4m0 -5.4l-5.4 5.4M165.5 280.69v5.8M162.6 283.59h5.8M174.68 298.71l5.4 5.4m0 -5.4l-5.4 5.4M177.38 298.51v5.8M174.48 301.41h5.8M186.55 280.89l5.4 5.4m0 -5.4l-5.4 5.4M189.25 280.69v5.8M186.35 283.59h5.8M198.43 298.71l5.4 5.4m0 -5.4l-5.4 5.4M201.12 298.51v5.8M198.23 301.41h5.8M210.3 280.89l5.4 5.4m0 -5.4l-5.4 5.4M213 280.69v5.8M210.1 283.59h5.8M222.18 263.08l5.4 5.4m0 -5.4l-5.4 5.4M224.88 262.88v5.8M221.98 265.78h5.8M234.05 263.08l5.4 5.4m0 -5.4l-5.4 5.4M236.75 262.88v5.8M233.85 265.78h5.8M245.93 280.89l5.4 5.4m0 -5.4l-5.4 5.4M248.62 280.69v5.8M245.73 283.59h5.8M257.8 280.89l5.4 5.4m0 -5.4l-5.4 5.4M260.5 280.69v5.8M257.6 283.59h5.8M269.68 298.71l5.4 5.4m0 -5.4l-5.4 5.4M272.38 298.51v5.8M269.48 301.41h5.8M281.55 298.71l5.4 5.4m0 -5.4l-5.4 5.4M284.25 298.51v5.8M281.35 301.41h5.8M293.43 280.89l5.4 5.4m0 -5.4l-5.4 5.4M296.12 280.69v5.8M293.23 283.59h5.8M305.3 298.71l5.4 5.4m0 -5.4l-5.4 5.4M308 298.51v5.8M305.1 301.41h5.8" stroke="#00ff00" stroke-width="1.1" fill="none"/>
<polyline points="23,301.41 34.88,301.41 46.75,301.41 58.62,301.41 70.5,301.41 82.38,283.59 94.25,265.78 106.12,265.78 118,283.59 129.88,283.59 141.75,283.59 153.62,283.59 165.5,283.59 177.38,283.59 189.25,283.59 201.12,283.59 213,283.59 224.88,283.59 236.75,265.78 248.62,265.78 260.5,283.59 272.38,247.96 284.25,301.41 296.12,301.41 308,319.22" stroke="#0000ff" stroke-width="1.2" fill="none" stroke-linejoin="round"/>
<path d="M20.3 298.71l5.4 5.4m0 -5.4l-5.4 5.4M23 298.51v5.8M20.1 301.41h5.8M32.17 298.71l5.4 5.4m0 -5.4l-5.4 5.4M34.88 298.51v5.8M31.97 301.41h5.8M44.05 298.71l5.4 5.4m0 -5.4l-5.4 5.4M46.75 298.51v5.8M43.85 301.41h5.8M55.92 298.71l5.4 5.4m0 -5.4l-5.4 5.4M58.62 298.51v5.8M55.72 301.41h5.8M67.8 298.71l5.4 5.4m0 -5.4l-5.4 5.4M70.5 298.51v5.8M67.6 301.41h5.8M79.67 280.89l5.4 5.4m0 -5.4l-5.4 5.4M82.38 280.69v5.8M79.47 283.59h5.8M91.55 263.08l5.4 5.4m0 -5.4l-5.4 5.4M94.25 262.88v5.8M91.35 265.78h5.8M103.42 263.08l5.4 5.4m0 -5.4l-5.4 5.4M106.12 262.88v5.8M103.22 265.78h5.8M115.3 280.89l5.4 5.4m0 -5.4l-5.4 5.4M118 280.69v5.8M115.1 283.59h5.8M127.17 280.89l5.4 5.4m0 -5.4l-5.4 5.4M129.88 280.69v5.8M126.97 283.59h5.8M139.05 280.89l5.4 5.4m0 -5.4l-5.4 5.4M141.75 280.69v5.8M138.85 283.59h5.8M150.93 280.89l5.4 5.4m0 -5.4l-5.4 5.4M153.62 280.69v5.8M150.73 283.59h5.8M162.8 280.89l5.4 5.4m0 -5.4l-5.4 5.4M165.5 280.69v5.8M162.6 283.59h5.8M174.68 280.89l5.4 5.4m0 -5.4l-5.4 5.4M177.38 280.69v5.8M174.48 283.59h5.8M186.55 280.89l5.4 5.4m0 -5.4l-5.4 5.4M189.25 280.69v5.8M186.35 283.59h5.8M198.43 280.89l5.4 5.4m0 -5.4l-5.4 5.4M201.12 280.69v5.8M198.23 283.59h5.8M210.3 280.89l5.4 5.4m0 -5.4l-5.4 5.4M213 280.69v5.8M210.1 283.59h5.8M222.18 280.89l5.4 5.4m0 -5.4l-5.4 5.4M224.88 280.69v5.8M221.98 283.59h5.8M234.05 263.08l5.4 5.4m0 -5.4l-5.4 5.4M236.75 262.88v5.8M233.85 265.78h5.8M245.93 263.08l5.4 5.4m0 -5.4l-5.4 5.4M248.62 262.88v5.8M245.73 265.78h5.8M257.8 280.89l5.4 5.4m0 -5.4l-5.4 5.4M260.5 280.69v5.8M257.6 283.59h5.8M269.68 245.26l5.4 5.4m0 -5.4l-5.4 5.4M272.38 245.06v5.8M269.48 247.96h5.8M281.55 298.71l5.4 5.4m0 -5.4l-5.4 5.4M284.25 298.51v5.8M281.35 301.41h5.8M293.43 298.71l5.4 5.4m0 -5.4l-5.4 5.4M296.12 298.51v5.8M293.23 301.41h5.8M305.3 316.52l5.4 5.4m0 -5.4l-5.4 5.4M308 316.32v5.8M305.1 319.22h5.8" stroke="#0000ff" stroke-width="1.1" fill="none"/>
<polyline points="23,319.22 34.88,319.22 46.75,319.22 58.62,319.22 70.5,283.59 82.38,301.41 94.25,301.41 106.12,283.59 118,283.59 129.88,283.59 141.75,283.59 153.62,283.59 165.5,283.59 177.38,283.59 189.25,301.41 201.12,283.59 213,283.59 224.88,283.59 236.75,265.78 248.62,265.78 260.5,265.78 272.38,301.41 284.25,301.41 296.12,301.41 308,301.41" stroke="#ff0000" stroke-width="1.2" fill="none" stroke-linejoin="round"/>
<path d="M20.3 316.52l5.4 5.4m0 -5.4l-5.4 5.4M23 316.32v5.8M20.1 319.22h5.8M32.17 316.52l5.4 5.4m0 -5.4l-5.4 5.4M34.88 316.32v5.8M31.97 319.22h5.8M44.05 316.52l5.4 5.4m0 -5.4l-5.4 5.4M46.75 316.32v5.8M43.85 319.22h5.8M55.92 316.52l5.4 5.4m0 -5.4l-5.4 5.4M58.62 316.32v5.8M55.72 319.22h5.8M67.8 280.89l5.4 5.4m0 -5.4l-5.4 5.4M70.5 280.69v5.8M67.6 283.59h5.8M79.67 298.71l5.4 5.4m0 -5.4l-5.4 5.4M82.38 298.51v5.8M79.47 301.41h5.8M91.55 298.71l5.4 5.4m0 -5.4l-5.4 5.4M94.25 298.51v5.8M91.35 301.41h5.8M103.42 280.89l5.4 5.4m0 -5.4l-5.4 5.4M106.12 280.69v5.8M103.22 283.59h5.8M115.3 280.89l5.4 5.4m0 -5.4l-5.4 5.4M118 280.69v5.8M115.1 283.59h5.8M127.17 280.89l5.4 5.4m0 -5.4l-5.4 5.4M129.88 280.69v5.8M126.97 283.59h5.8M139.05 280.89l5.4 5.4m0 -5.4l-5.4 5.4M141.75 280.69v5.8M138.85 283.59h5.8M150.93 280.89l5.4 5.4m0 -5.4l-5.4 5.4M153.62 280.69v5.8M150.73 283.59h5.8M162.8 280.89l5.4 5.4m0 -5.4l-5.4 5.4M165.5 280.69v5.8M162.6 283.59h5.8M174.68 280.89l5.4 5.4m0 -5.4l-5.4 5.4M177.38 280.69v5.8M174.48 283.59h5.8M186.55 298.71l5.4 5.4m0 -5.4l-5.4 5.4M189.25 298.51v5.8M186.35 301.41h5.8M198.43 280.89l5.4 5.4m0 -5.4l-5.4 5.4M201.12 280.69v5.8M198.23 283.59h5.8M210.3 280.89l5.4 5.4m0 -5.4l-5.4 5.4M213 280.69v5.8M210.1 283.59h5.8M222.18 280.89l5.4 5.4m0 -5.4l-5.4 5.4M224.88 280.69v5.8M221.98 283.59h5.8M234.05 263.08l5.4 5.4m0 -5.4l-5.4 5.4M236.75 262.88v5.8M233.85 265.78h5.8M245.93 263.08l5.4 5.4m0 -5.4l-5.4 5.4M248.62 262.88v5.8M245.73 265.78h5.8M257.8 263.08l5.4 5.4m0 -5.4l-5.4 5.4M260.5 262.88v5.8M257.6 265.78h5.8M269.68 298.71l5.4 5.4m0 -5.4l-5.4 5.4M272.38 298.51v5.8M269.48 301.41h5.8M281.55 298.71l5.4 5.4m0 -5.4l-5.4 5.4M284.25 298.51v5.8M281.35 301.41h5.8M293.43 298.71l5.4 5.4m0 -5.4l-5.4 5.4M296.12 298.51v5.8M293.23 301.41h5.8M305.3 298.71l5.4 5.4m0 -5.4l-5.4 5.4M308 298.51v5.8M305.1 301.41h5.8" stroke="#ff0000" stroke-width="1.1" fill="none"/>
</g>
<rect x="23" y="242" width="285" height="84" fill="none" stroke="#000" stroke-width="2"/>
<text transform="translate(18.2,329.1) scale(1.2,1)" text-anchor="end" class="lab">1.0</text>
<text transform="translate(18.2,319.77) scale(1.2,1)" text-anchor="end" class="lab">1.2</text>
<text transform="translate(18.2,310.43) scale(1.2,1)" text-anchor="end" class="lab">1.4</text>
<text transform="translate(18.2,301.1) scale(1.2,1)" text-anchor="end" class="lab">1.6</text>
<text transform="translate(18.2,291.77) scale(1.2,1)" text-anchor="end" class="lab">1.8</text>
<text transform="translate(18.2,282.43) scale(1.2,1)" text-anchor="end" class="lab">2.0</text>
<text transform="translate(18.2,273.1) scale(1.2,1)" text-anchor="end" class="lab">2.2</text>
<text transform="translate(18.2,263.77) scale(1.2,1)" text-anchor="end" class="lab">2.4</text>
<text transform="translate(18.2,254.43) scale(1.2,1)" text-anchor="end" class="lab">2.6</text>
<text transform="translate(18.2,245.1) scale(1.2,1)" text-anchor="end" class="lab">2.8</text>
<text transform="translate(23,337) scale(1.2,1)" text-anchor="middle" class="lab">0</text>
<text transform="translate(70.5,337) scale(1.2,1)" text-anchor="middle" class="lab">4</text>
<text transform="translate(118,337) scale(1.2,1)" text-anchor="middle" class="lab">8</text>
<text transform="translate(165.5,337) scale(1.2,1)" text-anchor="middle" class="lab">12</text>
<text transform="translate(213,337) scale(1.2,1)" text-anchor="middle" class="lab">16</text>
<text transform="translate(260.5,337) scale(1.2,1)" text-anchor="middle" class="lab">20</text>
<text transform="translate(308,337) scale(1.2,1)" text-anchor="middle" class="lab">24</text>
<text x="266.9" y="238.7" textLength="15.7" lengthAdjust="spacingAndGlyphs" class="ttl">SO2</text>
<text x="286" y="238.7" textLength="23" lengthAdjust="spacingAndGlyphs" class="ttl">(ppb)</text>
<clipPath id="c6"><rect x="348" y="242" width="285" height="84"/></clipPath>
<path d="M354.7 312.5H633 M354.7 298.5H633 M354.7 284.5H633 M354.7 270.5H633 M354.7 256.5H633" stroke="#000" stroke-width="1.0" stroke-dasharray="1 2.15" fill="none" shape-rendering="crispEdges"/>
<path d="M395.5 250V326 M443.5 250V326 M490.5 250V326 M538.5 250V326 M585.5 250V326" stroke="#000" stroke-width="1.0" stroke-dasharray="1 2" fill="none" shape-rendering="crispEdges"/>
<path d="M348 319.5h4M633 319.5h-4M348 312.5h5.5M633 312.5h-5.5M348 305.5h4M633 305.5h-4M348 298.5h5.5M633 298.5h-5.5M348 291.5h4M633 291.5h-4M348 284.5h5.5M633 284.5h-5.5M348 277.5h4M633 277.5h-4M348 270.5h5.5M633 270.5h-5.5M348 263.5h4M633 263.5h-4M348 256.5h5.5M633 256.5h-5.5M348 249.5h4M633 249.5h-4M371.5 242v3.8M371.5 326v-3.8M395.5 242v6M395.5 326v-6M419.5 242v3.8M419.5 326v-3.8M443.5 242v6M443.5 326v-6M466.5 242v3.8M466.5 326v-3.8M490.5 242v6M490.5 326v-6M514.5 242v3.8M514.5 326v-3.8M538.5 242v6M538.5 326v-6M561.5 242v3.8M561.5 326v-3.8M585.5 242v6M585.5 326v-6M609.5 242v3.8M609.5 326v-3.8" stroke="#000" stroke-width="1" fill="none"/>
<g clip-path="url(#c6)">
<polyline points="348,309.62 359.88,302.9 371.75,290.3 383.62,299.12 395.5,310.04 407.38,299.54 419.25,308.64 431.12,311.3 443,302.9 454.88,301.64 466.75,288.62 478.62,273.5 490.5,260.9 502.38,263.42 514.25,264.4 526.12,259.22 538,269.72 549.88,278.12 561.75,281.2 573.62,300.24 585.5,307.52 597.38,310.04 609.25,308.64 621.12,308.64 633,307.94" stroke="#00ffff" stroke-width="1.2" fill="none" stroke-linejoin="round"/>
<path d="M345.3 306.92l5.4 5.4m0 -5.4l-5.4 5.4M348 306.72v5.8M345.1 309.62h5.8M357.18 300.2l5.4 5.4m0 -5.4l-5.4 5.4M359.88 300v5.8M356.98 302.9h5.8M369.05 287.6l5.4 5.4m0 -5.4l-5.4 5.4M371.75 287.4v5.8M368.85 290.3h5.8M380.93 296.42l5.4 5.4m0 -5.4l-5.4 5.4M383.62 296.22v5.8M380.73 299.12h5.8M392.8 307.34l5.4 5.4m0 -5.4l-5.4 5.4M395.5 307.14v5.8M392.6 310.04h5.8M404.68 296.84l5.4 5.4m0 -5.4l-5.4 5.4M407.38 296.64v5.8M404.48 299.54h5.8M416.55 305.94l5.4 5.4m0 -5.4l-5.4 5.4M419.25 305.74v5.8M416.35 308.64h5.8M428.43 308.6l5.4 5.4m0 -5.4l-5.4 5.4M431.12 308.4v5.8M428.23 311.3h5.8M440.3 300.2l5.4 5.4m0 -5.4l-5.4 5.4M443 300v5.8M440.1 302.9h5.8M452.18 298.94l5.4 5.4m0 -5.4l-5.4 5.4M454.88 298.74v5.8M451.98 301.64h5.8M464.05 285.92l5.4 5.4m0 -5.4l-5.4 5.4M466.75 285.72v5.8M463.85 288.62h5.8M475.93 270.8l5.4 5.4m0 -5.4l-5.4 5.4M478.62 270.6v5.8M475.73 273.5h5.8M487.8 258.2l5.4 5.4m0 -5.4l-5.4 5.4M490.5 258v5.8M487.6 260.9h5.8M499.68 260.72l5.4 5.4m0 -5.4l-5.4 5.4M502.38 260.52v5.8M499.48 263.42h5.8M511.55 261.7l5.4 5.4m0 -5.4l-5.4 5.4M514.25 261.5v5.8M511.35 264.4h5.8M523.42 256.52l5.4 5.4m0 -5.4l-5.4 5.4M526.12 256.32v5.8M523.22 259.22h5.8M535.3 267.02l5.4 5.4m0 -5.4l-5.4 5.4M538 266.82v5.8M535.1 269.72h5.8M547.17 275.42l5.4 5.4m0 -5.4l-5.4 5.4M549.88 275.22v5.8M546.97 278.12h5.8M559.05 278.5l5.4 5.4m0 -5.4l-5.4 5.4M561.75 278.3v5.8M558.85 281.2h5.8M570.92 297.54l5.4 5.4m0 -5.4l-5.4 5.4M573.62 297.34v5.8M570.72 300.24h5.8M582.8 304.82l5.4 5.4m0 -5.4l-5.4 5.4M585.5 304.62v5.8M582.6 307.52h5.8M594.67 307.34l5.4 5.4m0 -5.4l-5.4 5.4M597.38 307.14v5.8M594.47 310.04h5.8M606.55 305.94l5.4 5.4m0 -5.4l-5.4 5.4M609.25 305.74v5.8M606.35 308.64h5.8M618.42 305.94l5.4 5.4m0 -5.4l-5.4 5.4M621.12 305.74v5.8M618.22 308.64h5.8M630.3 305.24l5.4 5.4m0 -5.4l-5.4 5.4M633 305.04v5.8M630.1 307.94h5.8" stroke="#00ffff" stroke-width="1.1" fill="none"/>
<polyline points="348,307.52 359.88,314.24 371.75,291.84 383.62,299.12 395.5,303.74 407.38,300.24 419.25,304.44 431.12,310.6 443,312.84 454.88,308.64 466.75,291.84 478.62,277.56 490.5,264.4 502.38,254.04 514.25,256 526.12,258.8 538,264.4 549.88,274.34 561.75,285.4 573.62,298.7 585.5,306.4 597.38,292.82 609.25,293.8 621.12,299.12 633,295.34" stroke="#00ff00" stroke-width="1.2" fill="none" stroke-linejoin="round"/>
<path d="M345.3 304.82l5.4 5.4m0 -5.4l-5.4 5.4M348 304.62v5.8M345.1 307.52h5.8M357.18 311.54l5.4 5.4m0 -5.4l-5.4 5.4M359.88 311.34v5.8M356.98 314.24h5.8M369.05 289.14l5.4 5.4m0 -5.4l-5.4 5.4M371.75 288.94v5.8M368.85 291.84h5.8M380.93 296.42l5.4 5.4m0 -5.4l-5.4 5.4M383.62 296.22v5.8M380.73 299.12h5.8M392.8 301.04l5.4 5.4m0 -5.4l-5.4 5.4M395.5 300.84v5.8M392.6 303.74h5.8M404.68 297.54l5.4 5.4m0 -5.4l-5.4 5.4M407.38 297.34v5.8M404.48 300.24h5.8M416.55 301.74l5.4 5.4m0 -5.4l-5.4 5.4M419.25 301.54v5.8M416.35 304.44h5.8M428.43 307.9l5.4 5.4m0 -5.4l-5.4 5.4M431.12 307.7v5.8M428.23 310.6h5.8M440.3 310.14l5.4 5.4m0 -5.4l-5.4 5.4M443 309.94v5.8M440.1 312.84h5.8M452.18 305.94l5.4 5.4m0 -5.4l-5.4 5.4M454.88 305.74v5.8M451.98 308.64h5.8M464.05 289.14l5.4 5.4m0 -5.4l-5.4 5.4M466.75 288.94v5.8M463.85 291.84h5.8M475.93 274.86l5.4 5.4m0 -5.4l-5.4 5.4M478.62 274.66v5.8M475.73 277.56h5.8M487.8 261.7l5.4 5.4m0 -5.4l-5.4 5.4M490.5 261.5v5.8M487.6 264.4h5.8M499.68 251.34l5.4 5.4m0 -5.4l-5.4 5.4M502.38 251.14v5.8M499.48 254.04h5.8M511.55 253.3l5.4 5.4m0 -5.4l-5.4 5.4M514.25 253.1v5.8M511.35 256h5.8M523.42 256.1l5.4 5.4m0 -5.4l-5.4 5.4M526.12 255.9v5.8M523.22 258.8h5.8M535.3 261.7l5.4 5.4m0 -5.4l-5.4 5.4M538 261.5v5.8M535.1 264.4h5.8M547.17 271.64l5.4 5.4m0 -5.4l-5.4 5.4M549.88 271.44v5.8M546.97 274.34h5.8M559.05 282.7l5.4 5.4m0 -5.4l-5.4 5.4M561.75 282.5v5.8M558.85 285.4h5.8M570.92 296l5.4 5.4m0 -5.4l-5.4 5.4M573.62 295.8v5.8M570.72 298.7h5.8M582.8 303.7l5.4 5.4m0 -5.4l-5.4 5.4M585.5 303.5v5.8M582.6 306.4h5.8M594.67 290.12l5.4 5.4m0 -5.4l-5.4 5.4M597.38 289.92v5.8M594.47 292.82h5.8M606.55 291.1l5.4 5.4m0 -5.4l-5.4 5.4M609.25 290.9v5.8M606.35 293.8h5.8M618.42 296.42l5.4 5.4m0 -5.4l-5.4 5.4M621.12 296.22v5.8M618.22 299.12h5.8M630.3 292.64l5.4 5.4m0 -5.4l-5.4 5.4M633 292.44v5.8M630.1 295.34h5.8" stroke="#00ff00" stroke-width="1.1" fill="none"/>
<polyline points="348,296.04 359.88,292.4 371.75,288.62 383.62,288.62 395.5,298.7 407.38,300.24 419.25,308.64 431.12,308.64 443,301.64 454.88,298.7 466.75,292.82 478.62,284.84 490.5,281.2 502.38,276.02 514.25,277.7 526.12,273.5 538,275.6 549.88,281.9 561.75,296.04 573.62,303.32 585.5,307.1 597.38,310.04 609.25,300.24 621.12,306.4 633,298.14" stroke="#0000ff" stroke-width="1.2" fill="none" stroke-linejoin="round"/>
<path d="M345.3 293.34l5.4 5.4m0 -5.4l-5.4 5.4M348 293.14v5.8M345.1 296.04h5.8M357.18 289.7l5.4 5.4m0 -5.4l-5.4 5.4M359.88 289.5v5.8M356.98 292.4h5.8M369.05 285.92l5.4 5.4m0 -5.4l-5.4 5.4M371.75 285.72v5.8M368.85 288.62h5.8M380.93 285.92l5.4 5.4m0 -5.4l-5.4 5.4M383.62 285.72v5.8M380.73 288.62h5.8M392.8 296l5.4 5.4m0 -5.4l-5.4 5.4M395.5 295.8v5.8M392.6 298.7h5.8M404.68 297.54l5.4 5.4m0 -5.4l-5.4 5.4M407.38 297.34v5.8M404.48 300.24h5.8M416.55 305.94l5.4 5.4m0 -5.4l-5.4 5.4M419.25 305.74v5.8M416.35 308.64h5.8M428.43 305.94l5.4 5.4m0 -5.4l-5.4 5.4M431.12 305.74v5.8M428.23 308.64h5.8M440.3 298.94l5.4 5.4m0 -5.4l-5.4 5.4M443 298.74v5.8M440.1 301.64h5.8M452.18 296l5.4 5.4m0 -5.4l-5.4 5.4M454.88 295.8v5.8M451.98 298.7h5.8M464.05 290.12l5.4 5.4m0 -5.4l-5.4 5.4M466.75 289.92v5.8M463.85 292.82h5.8M475.93 282.14l5.4 5.4m0 -5.4l-5.4 5.4M478.62 281.94v5.8M475.73 284.84h5.8M487.8 278.5l5.4 5.4m0 -5.4l-5.4 5.4M490.5 278.3v5.8M487.6 281.2h5.8M499.68 273.32l5.4 5.4m0 -5.4l-5.4 5.4M502.38 273.12v5.8M499.48 276.02h5.8M511.55 275l5.4 5.4m0 -5.4l-5.4 5.4M514.25 274.8v5.8M511.35 277.7h5.8M523.42 270.8l5.4 5.4m0 -5.4l-5.4 5.4M526.12 270.6v5.8M523.22 273.5h5.8M535.3 272.9l5.4 5.4m0 -5.4l-5.4 5.4M538 272.7v5.8M535.1 275.6h5.8M547.17 279.2l5.4 5.4m0 -5.4l-5.4 5.4M549.88 279v5.8M546.97 281.9h5.8M559.05 293.34l5.4 5.4m0 -5.4l-5.4 5.4M561.75 293.14v5.8M558.85 296.04h5.8M570.92 300.62l5.4 5.4m0 -5.4l-5.4 5.4M573.62 300.42v5.8M570.72 303.32h5.8M582.8 304.4l5.4 5.4m0 -5.4l-5.4 5.4M585.5 304.2v5.8M582.6 307.1h5.8M594.67 307.34l5.4 5.4m0 -5.4l-5.4 5.4M597.38 307.14v5.8M594.47 310.04h5.8M606.55 297.54l5.4 5.4m0 -5.4l-5.4 5.4M609.25 297.34v5.8M606.35 300.24h5.8M618.42 303.7l5.4 5.4m0 -5.4l-5.4 5.4M621.12 303.5v5.8M618.22 306.4h5.8M630.3 295.44l5.4 5.4m0 -5.4l-5.4 5.4M633 295.24v5.8M630.1 298.14h5.8" stroke="#0000ff" stroke-width="1.1" fill="none"/>
<polyline points="348,297.44 359.88,294.5 371.75,293.8 383.62,289.04 395.5,286.8 407.38,293.8 419.25,297.44 431.12,301.64 443,303.74 454.88,303.74 466.75,291.84 478.62,280.08 490.5,270 502.38,272.24 514.25,276.02 526.12,275.04 538,283.44 549.88,286.1 561.75,297.02 573.62,305.42 585.5,311.3 597.38,302.9 609.25,301.22 621.12,298.7 633,292.4" stroke="#ff0000" stroke-width="1.2" fill="none" stroke-linejoin="round"/>
<path d="M345.3 294.74l5.4 5.4m0 -5.4l-5.4 5.4M348 294.54v5.8M345.1 297.44h5.8M357.18 291.8l5.4 5.4m0 -5.4l-5.4 5.4M359.88 291.6v5.8M356.98 294.5h5.8M369.05 291.1l5.4 5.4m0 -5.4l-5.4 5.4M371.75 290.9v5.8M368.85 293.8h5.8M380.93 286.34l5.4 5.4m0 -5.4l-5.4 5.4M383.62 286.14v5.8M380.73 289.04h5.8M392.8 284.1l5.4 5.4m0 -5.4l-5.4 5.4M395.5 283.9v5.8M392.6 286.8h5.8M404.68 291.1l5.4 5.4m0 -5.4l-5.4 5.4M407.38 290.9v5.8M404.48 293.8h5.8M416.55 294.74l5.4 5.4m0 -5.4l-5.4 5.4M419.25 294.54v5.8M416.35 297.44h5.8M428.43 298.94l5.4 5.4m0 -5.4l-5.4 5.4M431.12 298.74v5.8M428.23 301.64h5.8M440.3 301.04l5.4 5.4m0 -5.4l-5.4 5.4M443 300.84v5.8M440.1 303.74h5.8M452.18 301.04l5.4 5.4m0 -5.4l-5.4 5.4M454.88 300.84v5.8M451.98 303.74h5.8M464.05 289.14l5.4 5.4m0 -5.4l-5.4 5.4M466.75 288.94v5.8M463.85 291.84h5.8M475.93 277.38l5.4 5.4m0 -5.4l-5.4 5.4M478.62 277.18v5.8M475.73 280.08h5.8M487.8 267.3l5.4 5.4m0 -5.4l-5.4 5.4M490.5 267.1v5.8M487.6 270h5.8M499.68 269.54l5.4 5.4m0 -5.4l-5.4 5.4M502.38 269.34v5.8M499.48 272.24h5.8M511.55 273.32l5.4 5.4m0 -5.4l-5.4 5.4M514.25 273.12v5.8M511.35 276.02h5.8M523.42 272.34l5.4 5.4m0 -5.4l-5.4 5.4M526.12 272.14v5.8M523.22 275.04h5.8M535.3 280.74l5.4 5.4m0 -5.4l-5.4 5.4M538 280.54v5.8M535.1 283.44h5.8M547.17 283.4l5.4 5.4m0 -5.4l-5.4 5.4M549.88 283.2v5.8M546.97 286.1h5.8M559.05 294.32l5.4 5.4m0 -5.4l-5.4 5.4M561.75 294.12v5.8M558.85 297.02h5.8M570.92 302.72l5.4 5.4m0 -5.4l-5.4 5.4M573.62 302.52v5.8M570.72 305.42h5.8M582.8 308.6l5.4 5.4m0 -5.4l-5.4 5.4M585.5 308.4v5.8M582.6 311.3h5.8M594.67 300.2l5.4 5.4m0 -5.4l-5.4 5.4M597.38 300v5.8M594.47 302.9h5.8M606.55 298.52l5.4 5.4m0 -5.4l-5.4 5.4M609.25 298.32v5.8M606.35 301.22h5.8M618.42 296l5.4 5.4m0 -5.4l-5.4 5.4M621.12 295.8v5.8M618.22 298.7h5.8M630.3 289.7l5.4 5.4m0 -5.4l-5.4 5.4M633 289.5v5.8M630.1 292.4h5.8" stroke="#ff0000" stroke-width="1.1" fill="none"/>
</g>
<rect x="348" y="242" width="285" height="84" fill="none" stroke="#000" stroke-width="2"/>
<text transform="translate(343.2,329.1) scale(1.2,1)" text-anchor="end" class="lab">0</text>
<text transform="translate(343.2,315.1) scale(1.2,1)" text-anchor="end" class="lab">5</text>
<text transform="translate(343.2,301.1) scale(1.2,1)" text-anchor="end" class="lab">10</text>
<text transform="translate(343.2,287.1) scale(1.2,1)" text-anchor="end" class="lab">15</text>
<text transform="translate(343.2,273.1) scale(1.2,1)" text-anchor="end" class="lab">20</text>
<text transform="translate(343.2,259.1) scale(1.2,1)" text-anchor="end" class="lab">25</text>
<text transform="translate(343.2,245.1) scale(1.2,1)" text-anchor="end" class="lab">30</text>
<text transform="translate(348,337) scale(1.2,1)" text-anchor="middle" class="lab">0</text>
<text transform="translate(395.5,337) scale(1.2,1)" text-anchor="middle" class="lab">4</text>
<text transform="translate(443,337) scale(1.2,1)" text-anchor="middle" class="lab">8</text>
<text transform="translate(490.5,337) scale(1.2,1)" text-anchor="middle" class="lab">12</text>
<text transform="translate(538,337) scale(1.2,1)" text-anchor="middle" class="lab">16</text>
<text transform="translate(585.5,337) scale(1.2,1)" text-anchor="middle" class="lab">20</text>
<text transform="translate(633,337) scale(1.2,1)" text-anchor="middle" class="lab">24</text>
<text x="597.2" y="238.7" textLength="10.4" lengthAdjust="spacingAndGlyphs" class="ttl">O3</text>
<text x="611" y="238.7" textLength="23" lengthAdjust="spacingAndGlyphs" class="ttl">(ppb)</text>
</svg></body></html>
